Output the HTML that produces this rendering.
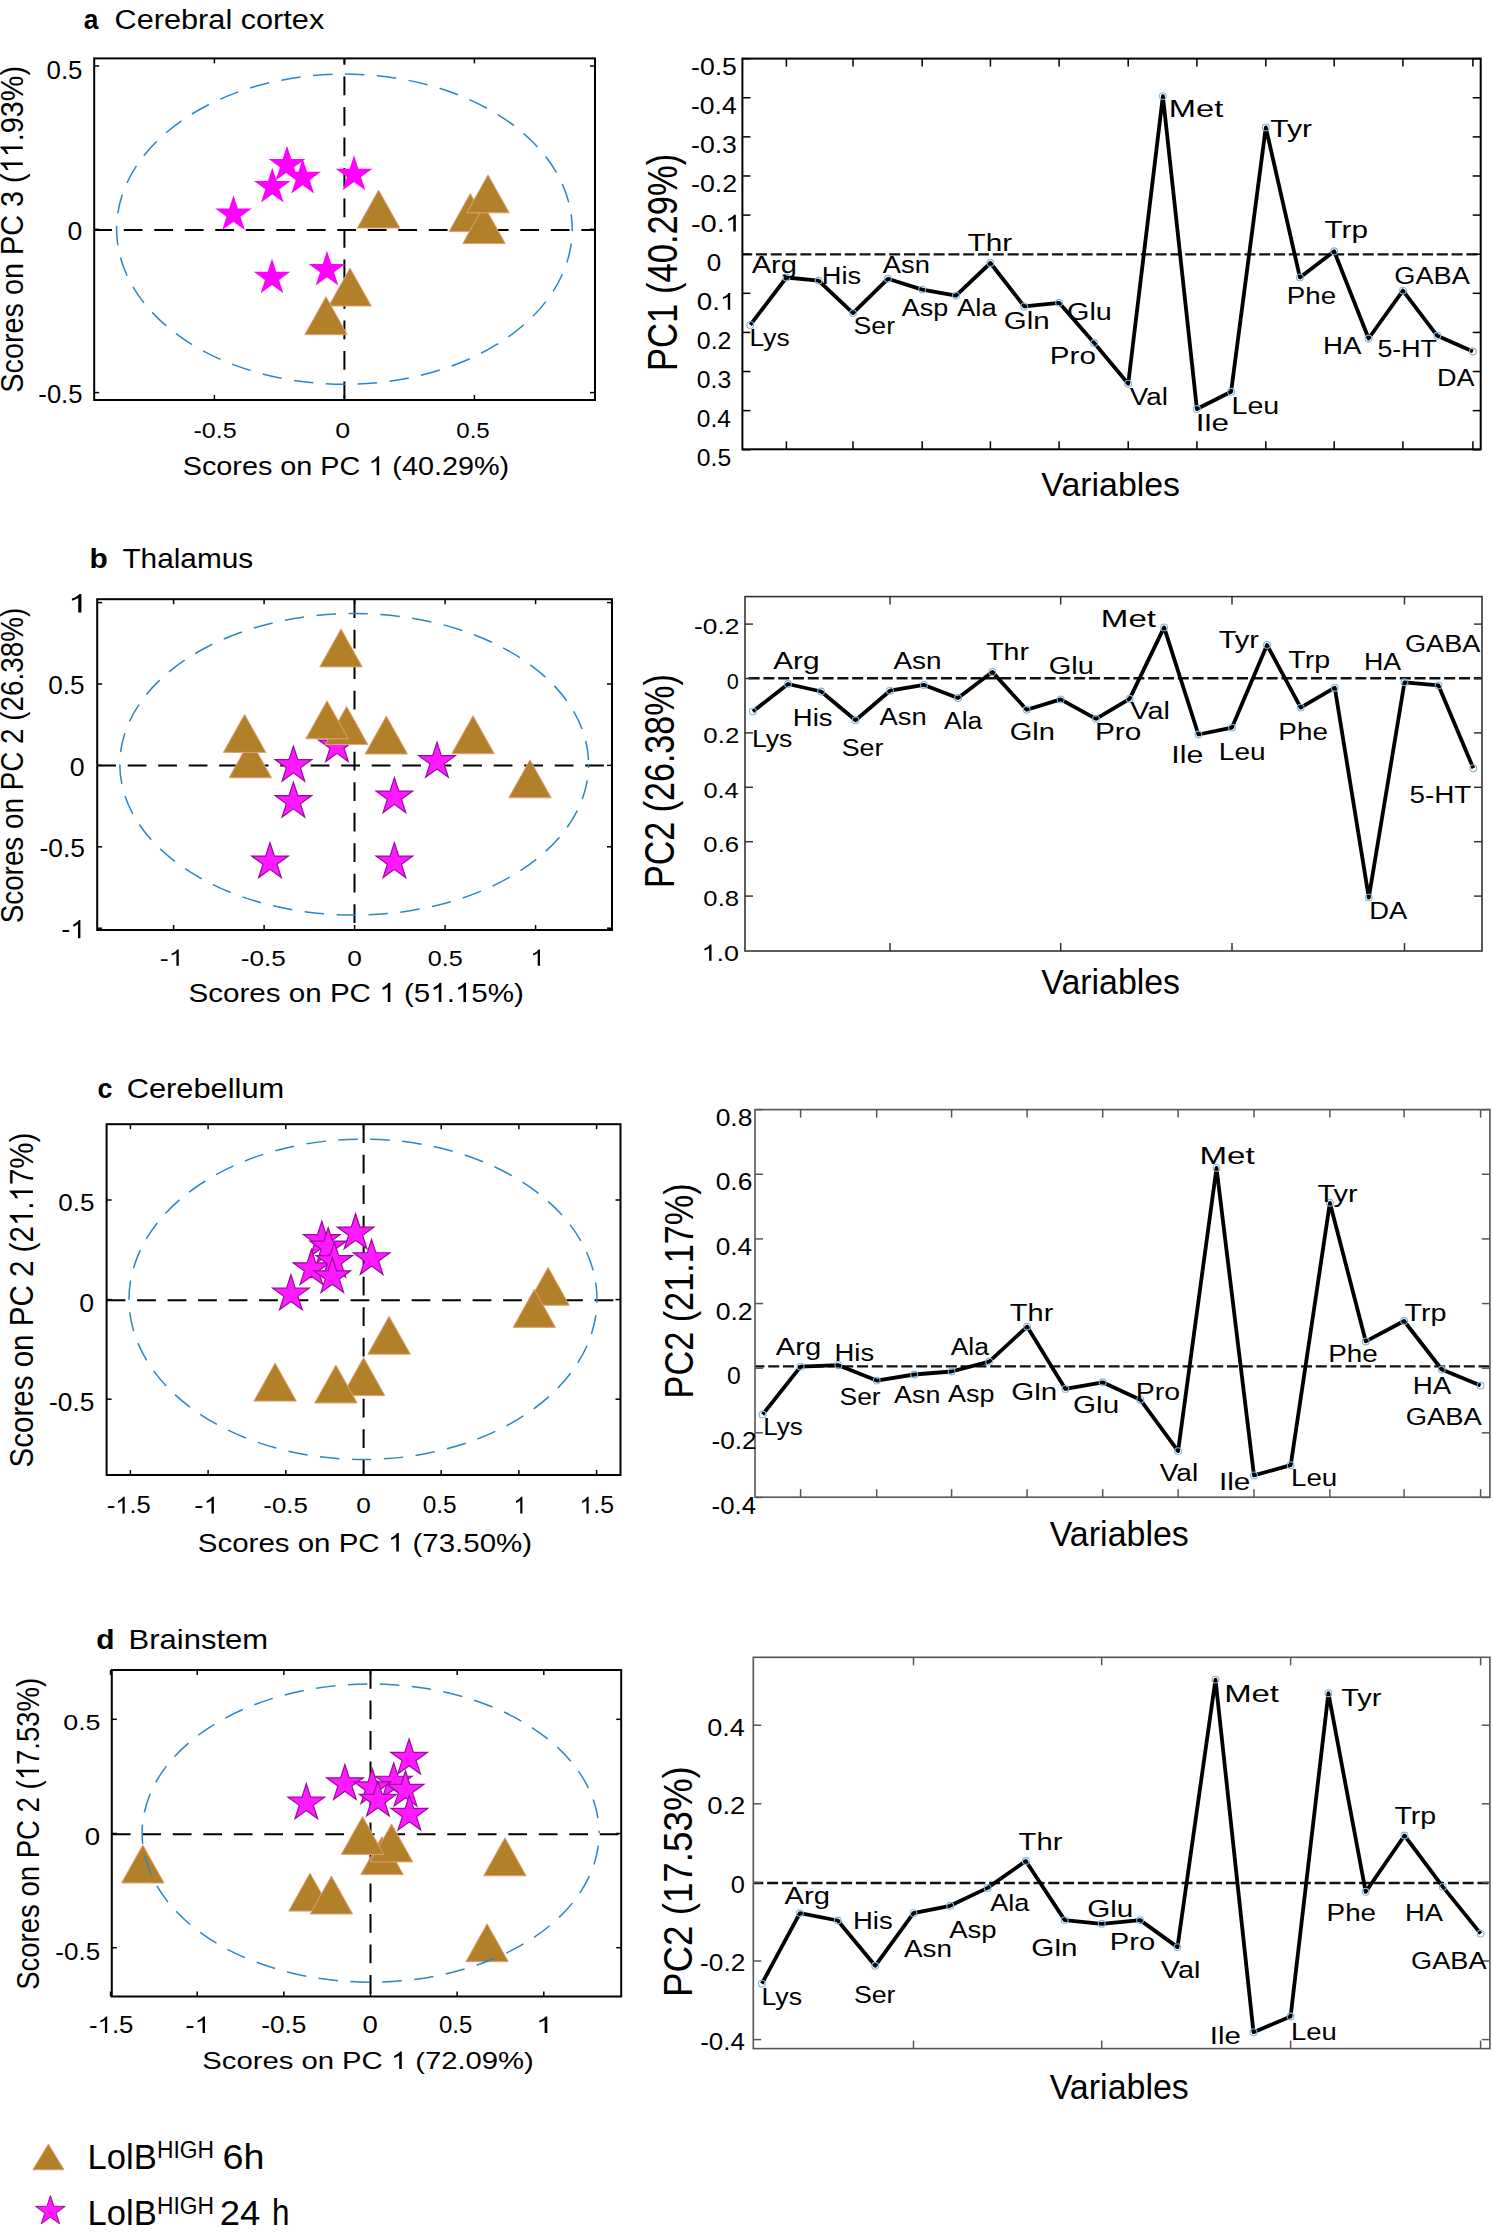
<!DOCTYPE html>
<html><head><meta charset="utf-8"><style>html,body{margin:0;padding:0;background:#fff;}svg{display:block;}</style></head>
<body><svg width="1493" height="2239" viewBox="0 0 1493 2239" font-family="'Liberation Sans', sans-serif">
<rect width="1493" height="2239" fill="#fff"/>
<g transform="matrix(0.9413,0,0,1.0000,83.71,29.30)"><text x="0" y="0" font-size="28.00" font-weight="bold" fill="#000">a</text></g>
<g transform="matrix(1.0959,0,0,1.0000,114.57,29.30)"><text x="0" y="0" font-size="28.00" fill="#000">Cerebral cortex</text></g>
<line x1="94.20" y1="230.00" x2="595.00" y2="230.00" stroke="#000" stroke-width="2" stroke-dasharray="18.75 11.75" stroke-dashoffset="0.9" stroke-linecap="butt"/>
<line x1="344.40" y1="58.40" x2="344.40" y2="400.00" stroke="#000" stroke-width="2" stroke-dasharray="18.75 11.75" stroke-dashoffset="12.4" stroke-linecap="butt"/>
<line x1="214.40" y1="400.00" x2="214.40" y2="395.00" stroke="#000" stroke-width="1.5" stroke-linecap="butt"/>
<line x1="214.40" y1="58.40" x2="214.40" y2="63.40" stroke="#000" stroke-width="1.5" stroke-linecap="butt"/>
<line x1="344.40" y1="400.00" x2="344.40" y2="395.00" stroke="#000" stroke-width="1.5" stroke-linecap="butt"/>
<line x1="344.40" y1="58.40" x2="344.40" y2="63.40" stroke="#000" stroke-width="1.5" stroke-linecap="butt"/>
<line x1="474.40" y1="400.00" x2="474.40" y2="395.00" stroke="#000" stroke-width="1.5" stroke-linecap="butt"/>
<line x1="474.40" y1="58.40" x2="474.40" y2="63.40" stroke="#000" stroke-width="1.5" stroke-linecap="butt"/>
<line x1="94.20" y1="392.60" x2="99.20" y2="392.60" stroke="#000" stroke-width="1.5" stroke-linecap="butt"/>
<line x1="595.00" y1="392.60" x2="590.00" y2="392.60" stroke="#000" stroke-width="1.5" stroke-linecap="butt"/>
<line x1="94.20" y1="229.30" x2="99.20" y2="229.30" stroke="#000" stroke-width="1.5" stroke-linecap="butt"/>
<line x1="595.00" y1="229.30" x2="590.00" y2="229.30" stroke="#000" stroke-width="1.5" stroke-linecap="butt"/>
<line x1="94.20" y1="66.00" x2="99.20" y2="66.00" stroke="#000" stroke-width="1.5" stroke-linecap="butt"/>
<line x1="595.00" y1="66.00" x2="590.00" y2="66.00" stroke="#000" stroke-width="1.5" stroke-linecap="butt"/>
<polygon points="233.50,195.20 237.83,208.54 251.86,208.54 240.51,216.78 244.84,230.11 233.50,221.87 222.16,230.11 226.49,216.78 215.14,208.54 229.17,208.54" fill="#ff00ff"/>
<polygon points="272.30,167.70 276.63,181.04 290.66,181.04 279.31,189.28 283.64,202.61 272.30,194.37 260.96,202.61 265.29,189.28 253.94,181.04 267.97,181.04" fill="#ff00ff"/>
<polygon points="302.70,158.50 307.03,171.84 321.06,171.84 309.71,180.08 314.04,193.41 302.70,185.17 291.36,193.41 295.69,180.08 284.34,171.84 298.37,171.84" fill="#ff00ff"/>
<polygon points="287.00,145.70 291.33,159.04 305.36,159.04 294.01,167.28 298.34,180.61 287.00,172.37 275.66,180.61 279.99,167.28 268.64,159.04 282.67,159.04" fill="#ff00ff"/>
<polygon points="354.00,155.30 358.33,168.64 372.36,168.64 361.01,176.88 365.34,190.21 354.00,181.97 342.66,190.21 346.99,176.88 335.64,168.64 349.67,168.64" fill="#ff00ff"/>
<polygon points="272.00,258.40 276.33,271.74 290.36,271.74 279.01,279.98 283.34,293.31 272.00,285.07 260.66,293.31 264.99,279.98 253.64,271.74 267.67,271.74" fill="#ff00ff"/>
<polygon points="327.00,250.70 331.33,264.04 345.36,264.04 334.01,272.28 338.34,285.61 327.00,277.37 315.66,285.61 319.99,272.28 308.64,264.04 322.67,264.04" fill="#ff00ff"/>
<polygon points="378.60,190.00 357.35,228.00 399.85,228.00" fill="#b3802a" stroke="#e0a27a" stroke-width="1" stroke-linejoin="miter"/>
<polygon points="350.00,268.00 328.75,306.00 371.25,306.00" fill="#b3802a" stroke="#e0a27a" stroke-width="1" stroke-linejoin="miter"/>
<polygon points="326.00,296.70 304.75,334.70 347.25,334.70" fill="#b3802a" stroke="#e0a27a" stroke-width="1" stroke-linejoin="miter"/>
<polygon points="470.30,193.60 449.05,231.60 491.55,231.60" fill="#b3802a" stroke="#e0a27a" stroke-width="1" stroke-linejoin="miter"/>
<polygon points="484.00,205.50 462.75,243.50 505.25,243.50" fill="#b3802a" stroke="#e0a27a" stroke-width="1" stroke-linejoin="miter"/>
<polygon points="488.00,174.80 466.75,212.80 509.25,212.80" fill="#b3802a" stroke="#e0a27a" stroke-width="1" stroke-linejoin="miter"/>
<ellipse cx="344.40" cy="229.20" rx="227.80" ry="155.10" fill="none" stroke="#2a86c8" stroke-width="1.5" stroke-dasharray="19.5 12.5" stroke-dashoffset="17.5"/>
<rect x="94.20" y="58.40" width="500.80" height="341.60" fill="none" stroke="#000" stroke-width="2"/>
<g transform="matrix(1.0998,0,0,1.0000,193.47,437.70)"><text x="0" y="0" font-size="22.80" fill="#000">-0.5</text></g>
<g transform="matrix(1.1787,0,0,1.0000,335.32,437.70)"><text x="0" y="0" font-size="22.80" fill="#000">0</text></g>
<g transform="matrix(1.0580,0,0,1.0000,456.24,437.70)"><text x="0" y="0" font-size="22.80" fill="#000">0.5</text></g>
<g transform="matrix(0.9962,0,0,1.0000,46.57,78.80)"><text x="0" y="0" font-size="25.90" fill="#000">0.5</text></g>
<g transform="matrix(1.0216,0,0,1.0000,67.54,240.30)"><text x="0" y="0" font-size="25.90" fill="#000">0</text></g>
<g transform="matrix(0.9895,0,0,1.0000,38.35,402.80)"><text x="0" y="0" font-size="25.90" fill="#000">-0.5</text></g>
<g transform="matrix(1.0995,0,0,1.0000,182.70,475.20)"><text x="0" y="0" font-size="26.20" fill="#000">Scores on PC   (40.29%)</text><path d="M763 0H583V1147Q518 1085 412.5 1023Q307 961 223 930V1104Q374 1175 487 1276Q600 1377 647 1472H763Z" transform="matrix(0.01279,0,0,-0.01279,168.92,0)" fill="#000"/></g>
<g transform="matrix(0,-1.1002,1.1900,0,22.80,392.70)"><text x="0" y="0" font-size="26.20" fill="#000">Scores on PC 3 (  .93%)</text><path d="M763 0H583V1147Q518 1085 412.5 1023Q307 961 223 930V1104Q374 1175 487 1276Q600 1377 647 1472H763Z" transform="matrix(0.01279,0,0,-0.01279,199.50,0)" fill="#000"/><path d="M763 0H583V1147Q518 1085 412.5 1023Q307 961 223 930V1104Q374 1175 487 1276Q600 1377 647 1472H763Z" transform="matrix(0.01279,0,0,-0.01279,214.07,0)" fill="#000"/></g>
<line x1="742.40" y1="254.40" x2="1480.70" y2="254.40" stroke="#111" stroke-width="2.4" stroke-dasharray="11 3.8" stroke-dashoffset="1.2" stroke-linecap="butt"/>
<line x1="742.40" y1="58.65" x2="750.40" y2="58.65" stroke="#000" stroke-width="1.5" stroke-linecap="butt"/>
<line x1="1480.70" y1="58.65" x2="1472.70" y2="58.65" stroke="#000" stroke-width="1.5" stroke-linecap="butt"/>
<line x1="742.40" y1="97.76" x2="750.40" y2="97.76" stroke="#000" stroke-width="1.5" stroke-linecap="butt"/>
<line x1="1480.70" y1="97.76" x2="1472.70" y2="97.76" stroke="#000" stroke-width="1.5" stroke-linecap="butt"/>
<line x1="742.40" y1="136.87" x2="750.40" y2="136.87" stroke="#000" stroke-width="1.5" stroke-linecap="butt"/>
<line x1="1480.70" y1="136.87" x2="1472.70" y2="136.87" stroke="#000" stroke-width="1.5" stroke-linecap="butt"/>
<line x1="742.40" y1="175.98" x2="750.40" y2="175.98" stroke="#000" stroke-width="1.5" stroke-linecap="butt"/>
<line x1="1480.70" y1="175.98" x2="1472.70" y2="175.98" stroke="#000" stroke-width="1.5" stroke-linecap="butt"/>
<line x1="742.40" y1="215.09" x2="750.40" y2="215.09" stroke="#000" stroke-width="1.5" stroke-linecap="butt"/>
<line x1="1480.70" y1="215.09" x2="1472.70" y2="215.09" stroke="#000" stroke-width="1.5" stroke-linecap="butt"/>
<line x1="742.40" y1="254.20" x2="750.40" y2="254.20" stroke="#000" stroke-width="1.5" stroke-linecap="butt"/>
<line x1="1480.70" y1="254.20" x2="1472.70" y2="254.20" stroke="#000" stroke-width="1.5" stroke-linecap="butt"/>
<line x1="742.40" y1="293.31" x2="750.40" y2="293.31" stroke="#000" stroke-width="1.5" stroke-linecap="butt"/>
<line x1="1480.70" y1="293.31" x2="1472.70" y2="293.31" stroke="#000" stroke-width="1.5" stroke-linecap="butt"/>
<line x1="742.40" y1="332.42" x2="750.40" y2="332.42" stroke="#000" stroke-width="1.5" stroke-linecap="butt"/>
<line x1="1480.70" y1="332.42" x2="1472.70" y2="332.42" stroke="#000" stroke-width="1.5" stroke-linecap="butt"/>
<line x1="742.40" y1="371.53" x2="750.40" y2="371.53" stroke="#000" stroke-width="1.5" stroke-linecap="butt"/>
<line x1="1480.70" y1="371.53" x2="1472.70" y2="371.53" stroke="#000" stroke-width="1.5" stroke-linecap="butt"/>
<line x1="742.40" y1="410.64" x2="750.40" y2="410.64" stroke="#000" stroke-width="1.5" stroke-linecap="butt"/>
<line x1="1480.70" y1="410.64" x2="1472.70" y2="410.64" stroke="#000" stroke-width="1.5" stroke-linecap="butt"/>
<line x1="742.40" y1="449.75" x2="750.40" y2="449.75" stroke="#000" stroke-width="1.5" stroke-linecap="butt"/>
<line x1="1480.70" y1="449.75" x2="1472.70" y2="449.75" stroke="#000" stroke-width="1.5" stroke-linecap="butt"/>
<line x1="786.40" y1="449.30" x2="786.40" y2="441.30" stroke="#000" stroke-width="1.5" stroke-linecap="butt"/>
<line x1="786.40" y1="58.60" x2="786.40" y2="66.60" stroke="#000" stroke-width="1.5" stroke-linecap="butt"/>
<line x1="853.00" y1="449.30" x2="853.00" y2="441.30" stroke="#000" stroke-width="1.5" stroke-linecap="butt"/>
<line x1="853.00" y1="58.60" x2="853.00" y2="66.60" stroke="#000" stroke-width="1.5" stroke-linecap="butt"/>
<line x1="922.20" y1="449.30" x2="922.20" y2="441.30" stroke="#000" stroke-width="1.5" stroke-linecap="butt"/>
<line x1="922.20" y1="58.60" x2="922.20" y2="66.60" stroke="#000" stroke-width="1.5" stroke-linecap="butt"/>
<line x1="990.40" y1="449.30" x2="990.40" y2="441.30" stroke="#000" stroke-width="1.5" stroke-linecap="butt"/>
<line x1="990.40" y1="58.60" x2="990.40" y2="66.60" stroke="#000" stroke-width="1.5" stroke-linecap="butt"/>
<line x1="1059.10" y1="449.30" x2="1059.10" y2="441.30" stroke="#000" stroke-width="1.5" stroke-linecap="butt"/>
<line x1="1059.10" y1="58.60" x2="1059.10" y2="66.60" stroke="#000" stroke-width="1.5" stroke-linecap="butt"/>
<line x1="1128.20" y1="449.30" x2="1128.20" y2="441.30" stroke="#000" stroke-width="1.5" stroke-linecap="butt"/>
<line x1="1128.20" y1="58.60" x2="1128.20" y2="66.60" stroke="#000" stroke-width="1.5" stroke-linecap="butt"/>
<line x1="1196.90" y1="449.30" x2="1196.90" y2="441.30" stroke="#000" stroke-width="1.5" stroke-linecap="butt"/>
<line x1="1196.90" y1="58.60" x2="1196.90" y2="66.60" stroke="#000" stroke-width="1.5" stroke-linecap="butt"/>
<line x1="1265.80" y1="449.30" x2="1265.80" y2="441.30" stroke="#000" stroke-width="1.5" stroke-linecap="butt"/>
<line x1="1265.80" y1="58.60" x2="1265.80" y2="66.60" stroke="#000" stroke-width="1.5" stroke-linecap="butt"/>
<line x1="1334.20" y1="449.30" x2="1334.20" y2="441.30" stroke="#000" stroke-width="1.5" stroke-linecap="butt"/>
<line x1="1334.20" y1="58.60" x2="1334.20" y2="66.60" stroke="#000" stroke-width="1.5" stroke-linecap="butt"/>
<line x1="1402.90" y1="449.30" x2="1402.90" y2="441.30" stroke="#000" stroke-width="1.5" stroke-linecap="butt"/>
<line x1="1402.90" y1="58.60" x2="1402.90" y2="66.60" stroke="#000" stroke-width="1.5" stroke-linecap="butt"/>
<line x1="1472.90" y1="449.30" x2="1472.90" y2="441.30" stroke="#000" stroke-width="1.5" stroke-linecap="butt"/>
<line x1="1472.90" y1="58.60" x2="1472.90" y2="66.60" stroke="#000" stroke-width="1.5" stroke-linecap="butt"/>
<polyline points="750.30,324.90 786.40,277.50 818.60,280.60 853.00,313.10 887.90,278.80 922.20,289.60 956.00,295.60 990.40,263.00 1024.20,306.40 1059.10,302.80 1094.20,343.00 1128.20,383.70 1162.90,96.10 1196.90,409.00 1231.10,391.80 1265.80,127.40 1299.90,277.40 1334.20,251.30 1368.60,338.50 1402.90,290.60 1437.30,335.80 1472.90,351.50" fill="none" stroke="#000" stroke-width="3.8" stroke-linejoin="round"/>
<circle cx="750.30" cy="324.90" r="3.4" fill="none" stroke="#7fb3dc" stroke-width="1.1"/>
<circle cx="786.40" cy="277.50" r="3.4" fill="none" stroke="#7fb3dc" stroke-width="1.1"/>
<circle cx="818.60" cy="280.60" r="3.4" fill="none" stroke="#7fb3dc" stroke-width="1.1"/>
<circle cx="853.00" cy="313.10" r="3.4" fill="none" stroke="#7fb3dc" stroke-width="1.1"/>
<circle cx="887.90" cy="278.80" r="3.4" fill="none" stroke="#7fb3dc" stroke-width="1.1"/>
<circle cx="922.20" cy="289.60" r="3.4" fill="none" stroke="#7fb3dc" stroke-width="1.1"/>
<circle cx="956.00" cy="295.60" r="3.4" fill="none" stroke="#7fb3dc" stroke-width="1.1"/>
<circle cx="990.40" cy="263.00" r="3.4" fill="none" stroke="#7fb3dc" stroke-width="1.1"/>
<circle cx="1024.20" cy="306.40" r="3.4" fill="none" stroke="#7fb3dc" stroke-width="1.1"/>
<circle cx="1059.10" cy="302.80" r="3.4" fill="none" stroke="#7fb3dc" stroke-width="1.1"/>
<circle cx="1094.20" cy="343.00" r="3.4" fill="none" stroke="#7fb3dc" stroke-width="1.1"/>
<circle cx="1128.20" cy="383.70" r="3.4" fill="none" stroke="#7fb3dc" stroke-width="1.1"/>
<circle cx="1162.90" cy="96.10" r="3.4" fill="none" stroke="#7fb3dc" stroke-width="1.1"/>
<circle cx="1196.90" cy="409.00" r="3.4" fill="none" stroke="#7fb3dc" stroke-width="1.1"/>
<circle cx="1231.10" cy="391.80" r="3.4" fill="none" stroke="#7fb3dc" stroke-width="1.1"/>
<circle cx="1265.80" cy="127.40" r="3.4" fill="none" stroke="#7fb3dc" stroke-width="1.1"/>
<circle cx="1299.90" cy="277.40" r="3.4" fill="none" stroke="#7fb3dc" stroke-width="1.1"/>
<circle cx="1334.20" cy="251.30" r="3.4" fill="none" stroke="#7fb3dc" stroke-width="1.1"/>
<circle cx="1368.60" cy="338.50" r="3.4" fill="none" stroke="#7fb3dc" stroke-width="1.1"/>
<circle cx="1402.90" cy="290.60" r="3.4" fill="none" stroke="#7fb3dc" stroke-width="1.1"/>
<circle cx="1437.30" cy="335.80" r="3.4" fill="none" stroke="#7fb3dc" stroke-width="1.1"/>
<circle cx="1472.90" cy="351.50" r="3.4" fill="none" stroke="#7fb3dc" stroke-width="1.1"/>
<rect x="742.40" y="58.60" width="738.30" height="390.70" fill="none" stroke="#000" stroke-width="2"/>
<g transform="matrix(1.0778,0,0,1.0000,749.59,345.70)"><text x="0" y="0" font-size="24.50" fill="#000">Lys</text></g>
<g transform="matrix(1.1889,0,0,1.0000,751.70,273.30)"><text x="0" y="0" font-size="24.50" fill="#000">Arg</text></g>
<g transform="matrix(1.1109,0,0,1.0000,821.82,284.20)"><text x="0" y="0" font-size="24.50" fill="#000">His</text></g>
<g transform="matrix(1.0866,0,0,1.0000,853.60,333.90)"><text x="0" y="0" font-size="24.50" fill="#000">Ser</text></g>
<g transform="matrix(1.1147,0,0,1.0000,882.80,273.30)"><text x="0" y="0" font-size="24.50" fill="#000">Asn</text></g>
<g transform="matrix(1.0982,0,0,1.0000,901.80,315.80)"><text x="0" y="0" font-size="24.50" fill="#000">Asp</text></g>
<g transform="matrix(1.1214,0,0,1.0000,957.00,315.80)"><text x="0" y="0" font-size="24.50" fill="#000">Ala</text></g>
<g transform="matrix(1.2133,0,0,1.0000,967.51,250.70)"><text x="0" y="0" font-size="24.50" fill="#000">Thr</text></g>
<g transform="matrix(1.2046,0,0,1.0000,1003.72,329.40)"><text x="0" y="0" font-size="24.50" fill="#000">Gln</text></g>
<g transform="matrix(1.1763,0,0,1.0000,1067.06,319.50)"><text x="0" y="0" font-size="24.50" fill="#000">Glu</text></g>
<g transform="matrix(1.2088,0,0,1.0000,1049.83,363.80)"><text x="0" y="0" font-size="24.50" fill="#000">Pro</text></g>
<g transform="matrix(1.1334,0,0,1.0000,1129.86,405.40)"><text x="0" y="0" font-size="24.50" fill="#000">Val</text></g>
<g transform="matrix(1.3330,0,0,1.0000,1168.79,116.90)"><text x="0" y="0" font-size="24.50" fill="#000">Met</text></g>
<g transform="matrix(1.2822,0,0,1.0000,1195.87,430.70)"><text x="0" y="0" font-size="24.50" fill="#000">Ile</text></g>
<g transform="matrix(1.1654,0,0,1.0000,1231.52,414.40)"><text x="0" y="0" font-size="24.50" fill="#000">Leu</text></g>
<g transform="matrix(1.2305,0,0,1.0000,1270.30,136.80)"><text x="0" y="0" font-size="24.50" fill="#000">Tyr</text></g>
<g transform="matrix(1.1345,0,0,1.0000,1286.78,304.10)"><text x="0" y="0" font-size="24.50" fill="#000">Phe</text></g>
<g transform="matrix(1.2128,0,0,1.0000,1324.51,238.00)"><text x="0" y="0" font-size="24.50" fill="#000">Trp</text></g>
<g transform="matrix(1.1291,0,0,1.0000,1322.99,353.90)"><text x="0" y="0" font-size="24.50" fill="#000">HA</text></g>
<g transform="matrix(1.1099,0,0,1.0000,1394.34,284.20)"><text x="0" y="0" font-size="24.50" fill="#000">GABA</text></g>
<g transform="matrix(1.0941,0,0,1.0000,1377.43,356.60)"><text x="0" y="0" font-size="24.50" fill="#000">5-HT</text></g>
<g transform="matrix(1.1041,0,0,1.0000,1436.94,386.40)"><text x="0" y="0" font-size="24.50" fill="#000">DA</text></g>
<g transform="matrix(1.1396,0,0,1.0000,691.00,75.15)"><text x="0" y="0" font-size="23.40" fill="#000">-0.5</text></g>
<g transform="matrix(1.1327,0,0,1.0000,691.01,114.26)"><text x="0" y="0" font-size="23.40" fill="#000">-0.4</text></g>
<g transform="matrix(1.1396,0,0,1.0000,691.00,153.37)"><text x="0" y="0" font-size="23.40" fill="#000">-0.3</text></g>
<g transform="matrix(1.1466,0,0,1.0000,690.99,192.48)"><text x="0" y="0" font-size="23.40" fill="#000">-0.2</text></g>
<g transform="matrix(1.2467,0,0,1.0000,690.89,231.59)"><text x="0" y="0" font-size="23.40" fill="#000">-0. </text><path d="M763 0H583V1147Q518 1085 412.5 1023Q307 961 223 930V1104Q374 1175 487 1276Q600 1377 647 1472H763Z" transform="matrix(0.01143,0,0,-0.01143,27.31,0)" fill="#000"/></g>
<g transform="matrix(1.1129,0,0,1.0000,706.71,270.70)"><text x="0" y="0" font-size="23.40" fill="#000">0</text></g>
<g transform="matrix(1.1869,0,0,1.0000,696.69,309.81)"><text x="0" y="0" font-size="23.40" fill="#000">0. </text><path d="M763 0H583V1147Q518 1085 412.5 1023Q307 961 223 930V1104Q374 1175 487 1276Q600 1377 647 1472H763Z" transform="matrix(0.01143,0,0,-0.01143,19.52,0)" fill="#000"/></g>
<g transform="matrix(1.0651,0,0,1.0000,696.80,348.92)"><text x="0" y="0" font-size="23.40" fill="#000">0.2</text></g>
<g transform="matrix(1.0570,0,0,1.0000,696.81,388.03)"><text x="0" y="0" font-size="23.40" fill="#000">0.3</text></g>
<g transform="matrix(1.0490,0,0,1.0000,696.82,427.14)"><text x="0" y="0" font-size="23.40" fill="#000">0.4</text></g>
<g transform="matrix(1.0570,0,0,1.0000,696.81,466.25)"><text x="0" y="0" font-size="23.40" fill="#000">0.5</text></g>
<g transform="matrix(1.0115,0,0,1.0000,1041.33,495.80)"><text x="0" y="0" font-size="33.50" fill="#000">Variables</text></g>
<g transform="matrix(0,-1.0326,1.2460,0,676.80,370.97)"><text x="0" y="0" font-size="33.50" fill="#000">PC1 (40.29%)</text></g>
<g transform="matrix(1.0679,0,0,1.0000,89.46,568.20)"><text x="0" y="0" font-size="28.00" font-weight="bold" fill="#000">b</text></g>
<g transform="matrix(1.0644,0,0,1.0000,122.40,568.20)"><text x="0" y="0" font-size="28.00" fill="#000">Thalamus</text></g>
<line x1="97.20" y1="765.40" x2="612.00" y2="765.40" stroke="#000" stroke-width="2" stroke-dasharray="18.75 11.75" stroke-dashoffset="0" stroke-linecap="butt"/>
<line x1="354.50" y1="599.20" x2="354.50" y2="930.00" stroke="#000" stroke-width="2" stroke-dasharray="18.75 11.75" stroke-dashoffset="0" stroke-linecap="butt"/>
<line x1="173.60" y1="930.00" x2="173.60" y2="925.00" stroke="#000" stroke-width="1.5" stroke-linecap="butt"/>
<line x1="173.60" y1="599.20" x2="173.60" y2="604.20" stroke="#000" stroke-width="1.5" stroke-linecap="butt"/>
<line x1="264.10" y1="930.00" x2="264.10" y2="925.00" stroke="#000" stroke-width="1.5" stroke-linecap="butt"/>
<line x1="264.10" y1="599.20" x2="264.10" y2="604.20" stroke="#000" stroke-width="1.5" stroke-linecap="butt"/>
<line x1="354.60" y1="930.00" x2="354.60" y2="925.00" stroke="#000" stroke-width="1.5" stroke-linecap="butt"/>
<line x1="354.60" y1="599.20" x2="354.60" y2="604.20" stroke="#000" stroke-width="1.5" stroke-linecap="butt"/>
<line x1="445.10" y1="930.00" x2="445.10" y2="925.00" stroke="#000" stroke-width="1.5" stroke-linecap="butt"/>
<line x1="445.10" y1="599.20" x2="445.10" y2="604.20" stroke="#000" stroke-width="1.5" stroke-linecap="butt"/>
<line x1="535.60" y1="930.00" x2="535.60" y2="925.00" stroke="#000" stroke-width="1.5" stroke-linecap="butt"/>
<line x1="535.60" y1="599.20" x2="535.60" y2="604.20" stroke="#000" stroke-width="1.5" stroke-linecap="butt"/>
<line x1="97.20" y1="928.20" x2="102.20" y2="928.20" stroke="#000" stroke-width="1.5" stroke-linecap="butt"/>
<line x1="612.00" y1="928.20" x2="607.00" y2="928.20" stroke="#000" stroke-width="1.5" stroke-linecap="butt"/>
<line x1="97.20" y1="846.80" x2="102.20" y2="846.80" stroke="#000" stroke-width="1.5" stroke-linecap="butt"/>
<line x1="612.00" y1="846.80" x2="607.00" y2="846.80" stroke="#000" stroke-width="1.5" stroke-linecap="butt"/>
<line x1="97.20" y1="765.40" x2="102.20" y2="765.40" stroke="#000" stroke-width="1.5" stroke-linecap="butt"/>
<line x1="612.00" y1="765.40" x2="607.00" y2="765.40" stroke="#000" stroke-width="1.5" stroke-linecap="butt"/>
<line x1="97.20" y1="684.00" x2="102.20" y2="684.00" stroke="#000" stroke-width="1.5" stroke-linecap="butt"/>
<line x1="612.00" y1="684.00" x2="607.00" y2="684.00" stroke="#000" stroke-width="1.5" stroke-linecap="butt"/>
<line x1="97.20" y1="602.60" x2="102.20" y2="602.60" stroke="#000" stroke-width="1.5" stroke-linecap="butt"/>
<line x1="612.00" y1="602.60" x2="607.00" y2="602.60" stroke="#000" stroke-width="1.5" stroke-linecap="butt"/>
<polygon points="293.40,746.20 297.73,759.54 311.76,759.54 300.41,767.78 304.74,781.11 293.40,772.87 282.06,781.11 286.39,767.78 275.04,759.54 289.07,759.54" fill="#ff1aff" stroke="#9a0aa0" stroke-width="1.2" stroke-linejoin="miter"/>
<polygon points="293.40,782.20 297.73,795.54 311.76,795.54 300.41,803.78 304.74,817.11 293.40,808.87 282.06,817.11 286.39,803.78 275.04,795.54 289.07,795.54" fill="#ff1aff" stroke="#9a0aa0" stroke-width="1.2" stroke-linejoin="miter"/>
<polygon points="270.00,842.70 274.33,856.04 288.36,856.04 277.01,864.28 281.34,877.61 270.00,869.37 258.66,877.61 262.99,864.28 251.64,856.04 265.67,856.04" fill="#ff1aff" stroke="#9a0aa0" stroke-width="1.2" stroke-linejoin="miter"/>
<polygon points="337.00,726.70 341.33,740.04 355.36,740.04 344.01,748.28 348.34,761.61 337.00,753.37 325.66,761.61 329.99,748.28 318.64,740.04 332.67,740.04" fill="#ff1aff" stroke="#9a0aa0" stroke-width="1.2" stroke-linejoin="miter"/>
<polygon points="437.00,742.30 441.33,755.64 455.36,755.64 444.01,763.88 448.34,777.21 437.00,768.97 425.66,777.21 429.99,763.88 418.64,755.64 432.67,755.64" fill="#ff1aff" stroke="#9a0aa0" stroke-width="1.2" stroke-linejoin="miter"/>
<polygon points="394.40,777.70 398.73,791.04 412.76,791.04 401.41,799.28 405.74,812.61 394.40,804.37 383.06,812.61 387.39,799.28 376.04,791.04 390.07,791.04" fill="#ff1aff" stroke="#9a0aa0" stroke-width="1.2" stroke-linejoin="miter"/>
<polygon points="394.40,842.70 398.73,856.04 412.76,856.04 401.41,864.28 405.74,877.61 394.40,869.37 383.06,877.61 387.39,864.28 376.04,856.04 390.07,856.04" fill="#ff1aff" stroke="#9a0aa0" stroke-width="1.2" stroke-linejoin="miter"/>
<polygon points="341.00,628.90 319.75,666.90 362.25,666.90" fill="#b3802a" stroke="#e0a27a" stroke-width="1" stroke-linejoin="miter"/>
<polygon points="250.30,739.80 229.05,777.80 271.55,777.80" fill="#b3802a" stroke="#e0a27a" stroke-width="1" stroke-linejoin="miter"/>
<polygon points="244.60,714.40 223.35,752.40 265.85,752.40" fill="#b3802a" stroke="#e0a27a" stroke-width="1" stroke-linejoin="miter"/>
<polygon points="346.60,706.50 325.35,744.50 367.85,744.50" fill="#b3802a" stroke="#e0a27a" stroke-width="1" stroke-linejoin="miter"/>
<polygon points="327.00,700.80 305.75,738.80 348.25,738.80" fill="#b3802a" stroke="#e0a27a" stroke-width="1" stroke-linejoin="miter"/>
<polygon points="386.30,716.00 365.05,754.00 407.55,754.00" fill="#b3802a" stroke="#e0a27a" stroke-width="1" stroke-linejoin="miter"/>
<polygon points="473.00,715.70 451.75,753.70 494.25,753.70" fill="#b3802a" stroke="#e0a27a" stroke-width="1" stroke-linejoin="miter"/>
<polygon points="530.00,759.80 508.75,797.80 551.25,797.80" fill="#b3802a" stroke="#e0a27a" stroke-width="1" stroke-linejoin="miter"/>
<ellipse cx="354.20" cy="764.30" rx="234.40" ry="150.80" fill="none" stroke="#2a86c8" stroke-width="1.5" stroke-dasharray="19.5 12.5" stroke-dashoffset="15.8"/>
<rect x="97.20" y="599.20" width="514.80" height="330.80" fill="none" stroke="#000" stroke-width="2"/>
<g transform="matrix(1.1976,0,0,1.0000,159.79,965.70)"><text x="0" y="0" font-size="22.50" fill="#000">- </text><path d="M763 0H583V1147Q518 1085 412.5 1023Q307 961 223 930V1104Q374 1175 487 1276Q600 1377 647 1472H763Z" transform="matrix(0.01099,0,0,-0.01099,7.49,0)" fill="#000"/></g>
<g transform="matrix(1.1580,0,0,1.0000,240.83,965.70)"><text x="0" y="0" font-size="22.50" fill="#000">-0.5</text></g>
<g transform="matrix(1.1667,0,0,1.0000,347.25,965.70)"><text x="0" y="0" font-size="22.50" fill="#000">0</text></g>
<g transform="matrix(1.1162,0,0,1.0000,427.80,965.70)"><text x="0" y="0" font-size="22.50" fill="#000">0.5</text></g>
<g transform="matrix(1.1631,0,0,1.0000,530.25,965.70)"><text x="0" y="0" font-size="22.50" fill="#000"> </text><path d="M763 0H583V1147Q518 1085 412.5 1023Q307 961 223 930V1104Q374 1175 487 1276Q600 1377 647 1472H763Z" transform="matrix(0.01099,0,0,-0.01099,0.00,0)" fill="#000"/></g>
<g transform="matrix(1.4074,0,0,1.0000,67.98,612.40)"><text x="0" y="0" font-size="25.60" fill="#000"> </text><path d="M763 0H583V1147Q518 1085 412.5 1023Q307 961 223 930V1104Q374 1175 487 1276Q600 1377 647 1472H763Z" transform="matrix(0.01250,0,0,-0.01250,0.00,0)" fill="#000"/></g>
<g transform="matrix(1.0198,0,0,1.0000,48.16,693.80)"><text x="0" y="0" font-size="25.60" fill="#000">0.5</text></g>
<g transform="matrix(1.0417,0,0,1.0000,69.83,775.90)"><text x="0" y="0" font-size="25.60" fill="#000">0</text></g>
<g transform="matrix(1.0273,0,0,1.0000,39.52,857.40)"><text x="0" y="0" font-size="25.60" fill="#000">-0.5</text></g>
<g transform="matrix(1.0585,0,0,1.0000,61.28,938.30)"><text x="0" y="0" font-size="25.60" fill="#000">- </text><path d="M763 0H583V1147Q518 1085 412.5 1023Q307 961 223 930V1104Q374 1175 487 1276Q600 1377 647 1472H763Z" transform="matrix(0.01250,0,0,-0.01250,8.53,0)" fill="#000"/></g>
<g transform="matrix(1.1086,0,0,1.0000,188.47,1002.00)"><text x="0" y="0" font-size="26.70" fill="#000">Scores on PC   (5 . 5%)</text><path d="M763 0H583V1147Q518 1085 412.5 1023Q307 961 223 930V1104Q374 1175 487 1276Q600 1377 647 1472H763Z" transform="matrix(0.01304,0,0,-0.01304,172.15,0)" fill="#000"/><path d="M763 0H583V1147Q518 1085 412.5 1023Q307 961 223 930V1104Q374 1175 487 1276Q600 1377 647 1472H763Z" transform="matrix(0.01304,0,0,-0.01304,218.16,0)" fill="#000"/><path d="M763 0H583V1147Q518 1085 412.5 1023Q307 961 223 930V1104Q374 1175 487 1276Q600 1377 647 1472H763Z" transform="matrix(0.01304,0,0,-0.01304,240.42,0)" fill="#000"/></g>
<g transform="matrix(0,-1.0429,1.1900,0,23.40,923.35)"><text x="0" y="0" font-size="26.70" fill="#000">Scores on PC 2 (26.38%)</text></g>
<line x1="745.00" y1="678.30" x2="1482.00" y2="678.30" stroke="#111" stroke-width="2.4" stroke-dasharray="11 3.8" stroke-dashoffset="11.2" stroke-linecap="butt"/>
<line x1="745.00" y1="624.10" x2="753.00" y2="624.10" stroke="#333" stroke-width="1.5" stroke-linecap="butt"/>
<line x1="1482.00" y1="624.10" x2="1474.00" y2="624.10" stroke="#333" stroke-width="1.5" stroke-linecap="butt"/>
<line x1="745.00" y1="678.50" x2="753.00" y2="678.50" stroke="#333" stroke-width="1.5" stroke-linecap="butt"/>
<line x1="1482.00" y1="678.50" x2="1474.00" y2="678.50" stroke="#333" stroke-width="1.5" stroke-linecap="butt"/>
<line x1="745.00" y1="732.90" x2="753.00" y2="732.90" stroke="#333" stroke-width="1.5" stroke-linecap="butt"/>
<line x1="1482.00" y1="732.90" x2="1474.00" y2="732.90" stroke="#333" stroke-width="1.5" stroke-linecap="butt"/>
<line x1="745.00" y1="787.30" x2="753.00" y2="787.30" stroke="#333" stroke-width="1.5" stroke-linecap="butt"/>
<line x1="1482.00" y1="787.30" x2="1474.00" y2="787.30" stroke="#333" stroke-width="1.5" stroke-linecap="butt"/>
<line x1="745.00" y1="841.70" x2="753.00" y2="841.70" stroke="#333" stroke-width="1.5" stroke-linecap="butt"/>
<line x1="1482.00" y1="841.70" x2="1474.00" y2="841.70" stroke="#333" stroke-width="1.5" stroke-linecap="butt"/>
<line x1="745.00" y1="896.10" x2="753.00" y2="896.10" stroke="#333" stroke-width="1.5" stroke-linecap="butt"/>
<line x1="1482.00" y1="896.10" x2="1474.00" y2="896.10" stroke="#333" stroke-width="1.5" stroke-linecap="butt"/>
<line x1="890.00" y1="951.00" x2="890.00" y2="943.00" stroke="#333" stroke-width="1.5" stroke-linecap="butt"/>
<line x1="890.00" y1="596.60" x2="890.00" y2="604.60" stroke="#333" stroke-width="1.5" stroke-linecap="butt"/>
<line x1="1060.70" y1="951.00" x2="1060.70" y2="943.00" stroke="#333" stroke-width="1.5" stroke-linecap="butt"/>
<line x1="1060.70" y1="596.60" x2="1060.70" y2="604.60" stroke="#333" stroke-width="1.5" stroke-linecap="butt"/>
<line x1="1232.00" y1="951.00" x2="1232.00" y2="943.00" stroke="#333" stroke-width="1.5" stroke-linecap="butt"/>
<line x1="1232.00" y1="596.60" x2="1232.00" y2="604.60" stroke="#333" stroke-width="1.5" stroke-linecap="butt"/>
<line x1="1404.50" y1="951.00" x2="1404.50" y2="943.00" stroke="#333" stroke-width="1.5" stroke-linecap="butt"/>
<line x1="1404.50" y1="596.60" x2="1404.50" y2="604.60" stroke="#333" stroke-width="1.5" stroke-linecap="butt"/>
<polyline points="752.90,711.40 788.00,684.00 821.10,691.50 855.60,720.30 890.00,690.70 924.00,684.90 958.00,698.00 992.30,671.90 1026.70,709.80 1060.70,699.40 1096.00,718.90 1129.60,698.80 1164.10,627.40 1198.40,734.50 1232.00,727.60 1267.00,644.90 1300.70,707.60 1334.80,687.70 1368.80,897.60 1404.50,682.30 1438.50,685.40 1473.30,768.20" fill="none" stroke="#000" stroke-width="3.8" stroke-linejoin="round"/>
<circle cx="752.90" cy="711.40" r="3.4" fill="none" stroke="#7fb3dc" stroke-width="1.1"/>
<circle cx="788.00" cy="684.00" r="3.4" fill="none" stroke="#7fb3dc" stroke-width="1.1"/>
<circle cx="821.10" cy="691.50" r="3.4" fill="none" stroke="#7fb3dc" stroke-width="1.1"/>
<circle cx="855.60" cy="720.30" r="3.4" fill="none" stroke="#7fb3dc" stroke-width="1.1"/>
<circle cx="890.00" cy="690.70" r="3.4" fill="none" stroke="#7fb3dc" stroke-width="1.1"/>
<circle cx="924.00" cy="684.90" r="3.4" fill="none" stroke="#7fb3dc" stroke-width="1.1"/>
<circle cx="958.00" cy="698.00" r="3.4" fill="none" stroke="#7fb3dc" stroke-width="1.1"/>
<circle cx="992.30" cy="671.90" r="3.4" fill="none" stroke="#7fb3dc" stroke-width="1.1"/>
<circle cx="1026.70" cy="709.80" r="3.4" fill="none" stroke="#7fb3dc" stroke-width="1.1"/>
<circle cx="1060.70" cy="699.40" r="3.4" fill="none" stroke="#7fb3dc" stroke-width="1.1"/>
<circle cx="1096.00" cy="718.90" r="3.4" fill="none" stroke="#7fb3dc" stroke-width="1.1"/>
<circle cx="1129.60" cy="698.80" r="3.4" fill="none" stroke="#7fb3dc" stroke-width="1.1"/>
<circle cx="1164.10" cy="627.40" r="3.4" fill="none" stroke="#7fb3dc" stroke-width="1.1"/>
<circle cx="1198.40" cy="734.50" r="3.4" fill="none" stroke="#7fb3dc" stroke-width="1.1"/>
<circle cx="1232.00" cy="727.60" r="3.4" fill="none" stroke="#7fb3dc" stroke-width="1.1"/>
<circle cx="1267.00" cy="644.90" r="3.4" fill="none" stroke="#7fb3dc" stroke-width="1.1"/>
<circle cx="1300.70" cy="707.60" r="3.4" fill="none" stroke="#7fb3dc" stroke-width="1.1"/>
<circle cx="1334.80" cy="687.70" r="3.4" fill="none" stroke="#7fb3dc" stroke-width="1.1"/>
<circle cx="1368.80" cy="897.60" r="3.4" fill="none" stroke="#7fb3dc" stroke-width="1.1"/>
<circle cx="1404.50" cy="682.30" r="3.4" fill="none" stroke="#7fb3dc" stroke-width="1.1"/>
<circle cx="1438.50" cy="685.40" r="3.4" fill="none" stroke="#7fb3dc" stroke-width="1.1"/>
<circle cx="1473.30" cy="768.20" r="3.4" fill="none" stroke="#7fb3dc" stroke-width="1.1"/>
<rect x="745.00" y="596.60" width="737.00" height="354.40" fill="none" stroke="#333" stroke-width="1.6"/>
<g transform="matrix(1.0865,0,0,1.0000,751.97,746.70)"><text x="0" y="0" font-size="24.50" fill="#000">Lys</text></g>
<g transform="matrix(1.2163,0,0,1.0000,773.20,669.20)"><text x="0" y="0" font-size="24.50" fill="#000">Arg</text></g>
<g transform="matrix(1.1232,0,0,1.0000,792.80,725.80)"><text x="0" y="0" font-size="24.50" fill="#000">His</text></g>
<g transform="matrix(1.0948,0,0,1.0000,841.69,756.30)"><text x="0" y="0" font-size="24.50" fill="#000">Ser</text></g>
<g transform="matrix(1.1394,0,0,1.0000,893.50,669.20)"><text x="0" y="0" font-size="24.50" fill="#000">Asn</text></g>
<g transform="matrix(1.1172,0,0,1.0000,879.60,725.00)"><text x="0" y="0" font-size="24.50" fill="#000">Asn</text></g>
<g transform="matrix(1.0818,0,0,1.0000,944.00,729.30)"><text x="0" y="0" font-size="24.50" fill="#000">Ala</text></g>
<g transform="matrix(1.1686,0,0,1.0000,986.13,659.70)"><text x="0" y="0" font-size="24.50" fill="#000">Thr</text></g>
<g transform="matrix(1.1848,0,0,1.0000,1009.65,739.80)"><text x="0" y="0" font-size="24.50" fill="#000">Gln</text></g>
<g transform="matrix(1.1848,0,0,1.0000,1048.75,673.60)"><text x="0" y="0" font-size="24.50" fill="#000">Glu</text></g>
<g transform="matrix(1.2145,0,0,1.0000,1095.02,739.80)"><text x="0" y="0" font-size="24.50" fill="#000">Pro</text></g>
<g transform="matrix(1.1774,0,0,1.0000,1130.36,718.90)"><text x="0" y="0" font-size="24.50" fill="#000">Val</text></g>
<g transform="matrix(1.3511,0,0,1.0000,1100.85,627.40)"><text x="0" y="0" font-size="24.50" fill="#000">Met</text></g>
<g transform="matrix(1.2378,0,0,1.0000,1171.27,763.30)"><text x="0" y="0" font-size="24.50" fill="#000">Ile</text></g>
<g transform="matrix(1.1439,0,0,1.0000,1218.86,759.80)"><text x="0" y="0" font-size="24.50" fill="#000">Leu</text></g>
<g transform="matrix(1.1852,0,0,1.0000,1218.72,648.30)"><text x="0" y="0" font-size="24.50" fill="#000">Tyr</text></g>
<g transform="matrix(1.1369,0,0,1.0000,1278.37,739.80)"><text x="0" y="0" font-size="24.50" fill="#000">Phe</text></g>
<g transform="matrix(1.1691,0,0,1.0000,1288.23,667.50)"><text x="0" y="0" font-size="24.50" fill="#000">Trp</text></g>
<g transform="matrix(1.0916,0,0,1.0000,1364.06,670.10)"><text x="0" y="0" font-size="24.50" fill="#000">HA</text></g>
<g transform="matrix(1.1084,0,0,1.0000,1404.94,651.80)"><text x="0" y="0" font-size="24.50" fill="#000">GABA</text></g>
<g transform="matrix(1.1357,0,0,1.0000,1409.49,802.70)"><text x="0" y="0" font-size="24.50" fill="#000">5-HT</text></g>
<g transform="matrix(1.1166,0,0,1.0000,1369.31,918.50)"><text x="0" y="0" font-size="24.50" fill="#000">DA</text></g>
<g transform="matrix(1.1627,0,0,1.0000,694.12,634.40)"><text x="0" y="0" font-size="22.60" fill="#000">-0.2</text></g>
<g transform="matrix(0.9587,0,0,1.0000,726.73,688.80)"><text x="0" y="0" font-size="22.60" fill="#000">0</text></g>
<g transform="matrix(1.1436,0,0,1.0000,703.37,743.20)"><text x="0" y="0" font-size="22.60" fill="#000">0.2</text></g>
<g transform="matrix(1.1263,0,0,1.0000,703.38,797.60)"><text x="0" y="0" font-size="22.60" fill="#000">0.4</text></g>
<g transform="matrix(1.1349,0,0,1.0000,703.37,852.00)"><text x="0" y="0" font-size="22.60" fill="#000">0.6</text></g>
<g transform="matrix(1.1349,0,0,1.0000,703.37,906.40)"><text x="0" y="0" font-size="22.60" fill="#000">0.8</text></g>
<g transform="matrix(1.1931,0,0,1.0000,701.46,960.80)"><text x="0" y="0" font-size="22.60" fill="#000"> .0</text><path d="M763 0H583V1147Q518 1085 412.5 1023Q307 961 223 930V1104Q374 1175 487 1276Q600 1377 647 1472H763Z" transform="matrix(0.01104,0,0,-0.01104,0.00,0)" fill="#000"/></g>
<g transform="matrix(0.9821,0,0,1.0000,1041.33,994.40)"><text x="0" y="0" font-size="34.50" fill="#000">Variables</text></g>
<g transform="matrix(0,-1.0166,1.2600,0,673.60,888.02)"><text x="0" y="0" font-size="33.50" fill="#000">PC2 (26.38%)</text></g>
<g transform="matrix(0.9573,0,0,1.0000,97.43,1098.20)"><text x="0" y="0" font-size="28.00" font-weight="bold" fill="#000">c</text></g>
<g transform="matrix(1.1007,0,0,1.0000,126.66,1098.20)"><text x="0" y="0" font-size="28.00" fill="#000">Cerebellum</text></g>
<line x1="106.60" y1="1300.30" x2="620.50" y2="1300.30" stroke="#000" stroke-width="2" stroke-dasharray="18.75 11.75" stroke-dashoffset="0" stroke-linecap="butt"/>
<line x1="363.60" y1="1124.20" x2="363.60" y2="1475.00" stroke="#000" stroke-width="2" stroke-dasharray="18.75 11.75" stroke-dashoffset="0" stroke-linecap="butt"/>
<line x1="130.40" y1="1475.00" x2="130.40" y2="1470.00" stroke="#000" stroke-width="1.5" stroke-linecap="butt"/>
<line x1="130.40" y1="1124.20" x2="130.40" y2="1129.20" stroke="#000" stroke-width="1.5" stroke-linecap="butt"/>
<line x1="208.10" y1="1475.00" x2="208.10" y2="1470.00" stroke="#000" stroke-width="1.5" stroke-linecap="butt"/>
<line x1="208.10" y1="1124.20" x2="208.10" y2="1129.20" stroke="#000" stroke-width="1.5" stroke-linecap="butt"/>
<line x1="285.80" y1="1475.00" x2="285.80" y2="1470.00" stroke="#000" stroke-width="1.5" stroke-linecap="butt"/>
<line x1="285.80" y1="1124.20" x2="285.80" y2="1129.20" stroke="#000" stroke-width="1.5" stroke-linecap="butt"/>
<line x1="363.50" y1="1475.00" x2="363.50" y2="1470.00" stroke="#000" stroke-width="1.5" stroke-linecap="butt"/>
<line x1="363.50" y1="1124.20" x2="363.50" y2="1129.20" stroke="#000" stroke-width="1.5" stroke-linecap="butt"/>
<line x1="441.20" y1="1475.00" x2="441.20" y2="1470.00" stroke="#000" stroke-width="1.5" stroke-linecap="butt"/>
<line x1="441.20" y1="1124.20" x2="441.20" y2="1129.20" stroke="#000" stroke-width="1.5" stroke-linecap="butt"/>
<line x1="518.90" y1="1475.00" x2="518.90" y2="1470.00" stroke="#000" stroke-width="1.5" stroke-linecap="butt"/>
<line x1="518.90" y1="1124.20" x2="518.90" y2="1129.20" stroke="#000" stroke-width="1.5" stroke-linecap="butt"/>
<line x1="596.60" y1="1475.00" x2="596.60" y2="1470.00" stroke="#000" stroke-width="1.5" stroke-linecap="butt"/>
<line x1="596.60" y1="1124.20" x2="596.60" y2="1129.20" stroke="#000" stroke-width="1.5" stroke-linecap="butt"/>
<line x1="106.60" y1="1399.20" x2="111.60" y2="1399.20" stroke="#000" stroke-width="1.5" stroke-linecap="butt"/>
<line x1="620.50" y1="1399.20" x2="615.50" y2="1399.20" stroke="#000" stroke-width="1.5" stroke-linecap="butt"/>
<line x1="106.60" y1="1299.60" x2="111.60" y2="1299.60" stroke="#000" stroke-width="1.5" stroke-linecap="butt"/>
<line x1="620.50" y1="1299.60" x2="615.50" y2="1299.60" stroke="#000" stroke-width="1.5" stroke-linecap="butt"/>
<line x1="106.60" y1="1200.00" x2="111.60" y2="1200.00" stroke="#000" stroke-width="1.5" stroke-linecap="butt"/>
<line x1="620.50" y1="1200.00" x2="615.50" y2="1200.00" stroke="#000" stroke-width="1.5" stroke-linecap="butt"/>
<polygon points="355.60,1213.70 359.93,1227.04 373.96,1227.04 362.61,1235.28 366.94,1248.61 355.60,1240.37 344.26,1248.61 348.59,1235.28 337.24,1227.04 351.27,1227.04" fill="#ff1aff" stroke="#9a0aa0" stroke-width="1.2" stroke-linejoin="miter"/>
<polygon points="371.60,1239.40 375.93,1252.74 389.96,1252.74 378.61,1260.98 382.94,1274.31 371.60,1266.07 360.26,1274.31 364.59,1260.98 353.24,1252.74 367.27,1252.74" fill="#ff1aff" stroke="#9a0aa0" stroke-width="1.2" stroke-linejoin="miter"/>
<polygon points="321.80,1221.30 326.13,1234.64 340.16,1234.64 328.81,1242.88 333.14,1256.21 321.80,1247.97 310.46,1256.21 314.79,1242.88 303.44,1234.64 317.47,1234.64" fill="#ff1aff" stroke="#9a0aa0" stroke-width="1.2" stroke-linejoin="miter"/>
<polygon points="328.20,1227.70 332.53,1241.04 346.56,1241.04 335.21,1249.28 339.54,1262.61 328.20,1254.37 316.86,1262.61 321.19,1249.28 309.84,1241.04 323.87,1241.04" fill="#ff1aff" stroke="#9a0aa0" stroke-width="1.2" stroke-linejoin="miter"/>
<polygon points="290.90,1274.80 295.23,1288.14 309.26,1288.14 297.91,1296.38 302.24,1309.71 290.90,1301.47 279.56,1309.71 283.89,1296.38 272.54,1288.14 286.57,1288.14" fill="#ff1aff" stroke="#9a0aa0" stroke-width="1.2" stroke-linejoin="miter"/>
<polygon points="311.40,1249.50 315.73,1262.84 329.76,1262.84 318.41,1271.08 322.74,1284.41 311.40,1276.17 300.06,1284.41 304.39,1271.08 293.04,1262.84 307.07,1262.84" fill="#ff1aff" stroke="#9a0aa0" stroke-width="1.2" stroke-linejoin="miter"/>
<polygon points="334.30,1242.20 338.63,1255.54 352.66,1255.54 341.31,1263.78 345.64,1277.11 334.30,1268.87 322.96,1277.11 327.29,1263.78 315.94,1255.54 329.97,1255.54" fill="#ff1aff" stroke="#9a0aa0" stroke-width="1.2" stroke-linejoin="miter"/>
<polygon points="332.30,1257.50 336.63,1270.84 350.66,1270.84 339.31,1279.08 343.64,1292.41 332.30,1284.17 320.96,1292.41 325.29,1279.08 313.94,1270.84 327.97,1270.84" fill="#ff1aff" stroke="#9a0aa0" stroke-width="1.2" stroke-linejoin="miter"/>
<polygon points="275.10,1363.10 253.85,1401.10 296.35,1401.10" fill="#b3802a" stroke="#e0a27a" stroke-width="1" stroke-linejoin="miter"/>
<polygon points="363.60,1357.60 342.35,1395.60 384.85,1395.60" fill="#b3802a" stroke="#e0a27a" stroke-width="1" stroke-linejoin="miter"/>
<polygon points="335.90,1365.00 314.65,1403.00 357.15,1403.00" fill="#b3802a" stroke="#e0a27a" stroke-width="1" stroke-linejoin="miter"/>
<polygon points="389.10,1316.20 367.85,1354.20 410.35,1354.20" fill="#b3802a" stroke="#e0a27a" stroke-width="1" stroke-linejoin="miter"/>
<polygon points="548.10,1267.30 526.85,1305.30 569.35,1305.30" fill="#b3802a" stroke="#e0a27a" stroke-width="1" stroke-linejoin="miter"/>
<polygon points="534.30,1289.40 513.05,1327.40 555.55,1327.40" fill="#b3802a" stroke="#e0a27a" stroke-width="1" stroke-linejoin="miter"/>
<ellipse cx="363.00" cy="1299.30" rx="234.00" ry="160.20" fill="none" stroke="#2a86c8" stroke-width="1.5" stroke-dasharray="19.5 12.5" stroke-dashoffset="16.1"/>
<rect x="106.60" y="1124.20" width="513.90" height="350.80" fill="none" stroke="#000" stroke-width="2"/>
<g transform="matrix(1.1142,0,0,1.0000,106.65,1513.40)"><text x="0" y="0" font-size="23.00" fill="#000">- .5</text><path d="M763 0H583V1147Q518 1085 412.5 1023Q307 961 223 930V1104Q374 1175 487 1276Q600 1377 647 1472H763Z" transform="matrix(0.01123,0,0,-0.01123,7.66,0)" fill="#000"/></g>
<g transform="matrix(1.2044,0,0,1.0000,194.35,1513.40)"><text x="0" y="0" font-size="23.00" fill="#000">- </text><path d="M763 0H583V1147Q518 1085 412.5 1023Q307 961 223 930V1104Q374 1175 487 1276Q600 1377 647 1472H763Z" transform="matrix(0.01123,0,0,-0.01123,7.66,0)" fill="#000"/></g>
<g transform="matrix(1.1222,0,0,1.0000,263.34,1513.40)"><text x="0" y="0" font-size="23.00" fill="#000">-0.5</text></g>
<g transform="matrix(1.1413,0,0,1.0000,356.35,1513.40)"><text x="0" y="0" font-size="23.00" fill="#000">0</text></g>
<g transform="matrix(1.0621,0,0,1.0000,422.72,1513.40)"><text x="0" y="0" font-size="23.00" fill="#000">0.5</text></g>
<g transform="matrix(1.0553,0,0,1.0000,513.36,1513.40)"><text x="0" y="0" font-size="23.00" fill="#000"> </text><path d="M763 0H583V1147Q518 1085 412.5 1023Q307 961 223 930V1104Q374 1175 487 1276Q600 1377 647 1472H763Z" transform="matrix(0.01123,0,0,-0.01123,0.00,0)" fill="#000"/></g>
<g transform="matrix(1.0825,0,0,1.0000,579.39,1513.40)"><text x="0" y="0" font-size="23.00" fill="#000"> .5</text><path d="M763 0H583V1147Q518 1085 412.5 1023Q307 961 223 930V1104Q374 1175 487 1276Q600 1377 647 1472H763Z" transform="matrix(0.01123,0,0,-0.01123,0.00,0)" fill="#000"/></g>
<g transform="matrix(1.1077,0,0,1.0000,58.26,1210.70)"><text x="0" y="0" font-size="23.50" fill="#000">0.5</text></g>
<g transform="matrix(1.0063,0,0,1.0000,79.33,1311.50)"><text x="0" y="0" font-size="26.50" fill="#000">0</text></g>
<g transform="matrix(0.9924,0,0,1.0000,49.02,1411.20)"><text x="0" y="0" font-size="26.50" fill="#000">-0.5</text></g>
<g transform="matrix(1.1517,0,0,1.0000,197.77,1551.50)"><text x="0" y="0" font-size="25.60" fill="#000">Scores on PC   (73.50%)</text><path d="M763 0H583V1147Q518 1085 412.5 1023Q307 961 223 930V1104Q374 1175 487 1276Q600 1377 647 1472H763Z" transform="matrix(0.01250,0,0,-0.01250,165.05,0)" fill="#000"/></g>
<g transform="matrix(0,-1.1149,1.2200,0,32.90,1467.43)"><text x="0" y="0" font-size="26.50" fill="#000">Scores on PC 2 (2 . 7%)</text><path d="M763 0H583V1147Q518 1085 412.5 1023Q307 961 223 930V1104Q374 1175 487 1276Q600 1377 647 1472H763Z" transform="matrix(0.01294,0,0,-0.01294,216.52,0)" fill="#000"/><path d="M763 0H583V1147Q518 1085 412.5 1023Q307 961 223 930V1104Q374 1175 487 1276Q600 1377 647 1472H763Z" transform="matrix(0.01294,0,0,-0.01294,238.62,0)" fill="#000"/></g>
<line x1="755.00" y1="1366.40" x2="1489.90" y2="1366.40" stroke="#111" stroke-width="2.4" stroke-dasharray="11 3.8" stroke-dashoffset="1.6" stroke-linecap="butt"/>
<line x1="755.00" y1="1109.64" x2="763.00" y2="1109.64" stroke="#555" stroke-width="1.5" stroke-linecap="butt"/>
<line x1="1489.90" y1="1109.64" x2="1481.90" y2="1109.64" stroke="#555" stroke-width="1.5" stroke-linecap="butt"/>
<line x1="755.00" y1="1174.28" x2="763.00" y2="1174.28" stroke="#555" stroke-width="1.5" stroke-linecap="butt"/>
<line x1="1489.90" y1="1174.28" x2="1481.90" y2="1174.28" stroke="#555" stroke-width="1.5" stroke-linecap="butt"/>
<line x1="755.00" y1="1238.92" x2="763.00" y2="1238.92" stroke="#555" stroke-width="1.5" stroke-linecap="butt"/>
<line x1="1489.90" y1="1238.92" x2="1481.90" y2="1238.92" stroke="#555" stroke-width="1.5" stroke-linecap="butt"/>
<line x1="755.00" y1="1303.56" x2="763.00" y2="1303.56" stroke="#555" stroke-width="1.5" stroke-linecap="butt"/>
<line x1="1489.90" y1="1303.56" x2="1481.90" y2="1303.56" stroke="#555" stroke-width="1.5" stroke-linecap="butt"/>
<line x1="755.00" y1="1368.20" x2="763.00" y2="1368.20" stroke="#555" stroke-width="1.5" stroke-linecap="butt"/>
<line x1="1489.90" y1="1368.20" x2="1481.90" y2="1368.20" stroke="#555" stroke-width="1.5" stroke-linecap="butt"/>
<line x1="755.00" y1="1432.84" x2="763.00" y2="1432.84" stroke="#555" stroke-width="1.5" stroke-linecap="butt"/>
<line x1="1489.90" y1="1432.84" x2="1481.90" y2="1432.84" stroke="#555" stroke-width="1.5" stroke-linecap="butt"/>
<line x1="755.00" y1="1497.48" x2="763.00" y2="1497.48" stroke="#555" stroke-width="1.5" stroke-linecap="butt"/>
<line x1="1489.90" y1="1497.48" x2="1481.90" y2="1497.48" stroke="#555" stroke-width="1.5" stroke-linecap="butt"/>
<line x1="800.60" y1="1497.20" x2="800.60" y2="1489.20" stroke="#555" stroke-width="1.5" stroke-linecap="butt"/>
<line x1="800.60" y1="1109.60" x2="800.60" y2="1117.60" stroke="#555" stroke-width="1.5" stroke-linecap="butt"/>
<line x1="876.70" y1="1497.20" x2="876.70" y2="1489.20" stroke="#555" stroke-width="1.5" stroke-linecap="butt"/>
<line x1="876.70" y1="1109.60" x2="876.70" y2="1117.60" stroke="#555" stroke-width="1.5" stroke-linecap="butt"/>
<line x1="951.60" y1="1497.20" x2="951.60" y2="1489.20" stroke="#555" stroke-width="1.5" stroke-linecap="butt"/>
<line x1="951.60" y1="1109.60" x2="951.60" y2="1117.60" stroke="#555" stroke-width="1.5" stroke-linecap="butt"/>
<line x1="1027.10" y1="1497.20" x2="1027.10" y2="1489.20" stroke="#555" stroke-width="1.5" stroke-linecap="butt"/>
<line x1="1027.10" y1="1109.60" x2="1027.10" y2="1117.60" stroke="#555" stroke-width="1.5" stroke-linecap="butt"/>
<line x1="1102.70" y1="1497.20" x2="1102.70" y2="1489.20" stroke="#555" stroke-width="1.5" stroke-linecap="butt"/>
<line x1="1102.70" y1="1109.60" x2="1102.70" y2="1117.60" stroke="#555" stroke-width="1.5" stroke-linecap="butt"/>
<line x1="1178.10" y1="1497.20" x2="1178.10" y2="1489.20" stroke="#555" stroke-width="1.5" stroke-linecap="butt"/>
<line x1="1178.10" y1="1109.60" x2="1178.10" y2="1117.60" stroke="#555" stroke-width="1.5" stroke-linecap="butt"/>
<line x1="1254.00" y1="1497.20" x2="1254.00" y2="1489.20" stroke="#555" stroke-width="1.5" stroke-linecap="butt"/>
<line x1="1254.00" y1="1109.60" x2="1254.00" y2="1117.60" stroke="#555" stroke-width="1.5" stroke-linecap="butt"/>
<line x1="1329.90" y1="1497.20" x2="1329.90" y2="1489.20" stroke="#555" stroke-width="1.5" stroke-linecap="butt"/>
<line x1="1329.90" y1="1109.60" x2="1329.90" y2="1117.60" stroke="#555" stroke-width="1.5" stroke-linecap="butt"/>
<line x1="1404.10" y1="1497.20" x2="1404.10" y2="1489.20" stroke="#555" stroke-width="1.5" stroke-linecap="butt"/>
<line x1="1404.10" y1="1109.60" x2="1404.10" y2="1117.60" stroke="#555" stroke-width="1.5" stroke-linecap="butt"/>
<line x1="1480.60" y1="1497.20" x2="1480.60" y2="1489.20" stroke="#555" stroke-width="1.5" stroke-linecap="butt"/>
<line x1="1480.60" y1="1109.60" x2="1480.60" y2="1117.60" stroke="#555" stroke-width="1.5" stroke-linecap="butt"/>
<polyline points="762.60,1414.50 800.60,1366.60 838.40,1365.20 876.70,1380.60 914.20,1374.50 951.60,1371.50 989.20,1361.60 1027.10,1326.60 1065.40,1388.90 1102.70,1382.30 1140.30,1399.70 1178.10,1451.10 1216.50,1167.90 1254.00,1475.40 1290.70,1465.20 1329.90,1202.80 1365.80,1341.40 1404.10,1321.00 1441.80,1369.50 1480.60,1385.60" fill="none" stroke="#000" stroke-width="3.8" stroke-linejoin="round"/>
<circle cx="762.60" cy="1414.50" r="3.4" fill="none" stroke="#7fb3dc" stroke-width="1.1"/>
<circle cx="800.60" cy="1366.60" r="3.4" fill="none" stroke="#7fb3dc" stroke-width="1.1"/>
<circle cx="838.40" cy="1365.20" r="3.4" fill="none" stroke="#7fb3dc" stroke-width="1.1"/>
<circle cx="876.70" cy="1380.60" r="3.4" fill="none" stroke="#7fb3dc" stroke-width="1.1"/>
<circle cx="914.20" cy="1374.50" r="3.4" fill="none" stroke="#7fb3dc" stroke-width="1.1"/>
<circle cx="951.60" cy="1371.50" r="3.4" fill="none" stroke="#7fb3dc" stroke-width="1.1"/>
<circle cx="989.20" cy="1361.60" r="3.4" fill="none" stroke="#7fb3dc" stroke-width="1.1"/>
<circle cx="1027.10" cy="1326.60" r="3.4" fill="none" stroke="#7fb3dc" stroke-width="1.1"/>
<circle cx="1065.40" cy="1388.90" r="3.4" fill="none" stroke="#7fb3dc" stroke-width="1.1"/>
<circle cx="1102.70" cy="1382.30" r="3.4" fill="none" stroke="#7fb3dc" stroke-width="1.1"/>
<circle cx="1140.30" cy="1399.70" r="3.4" fill="none" stroke="#7fb3dc" stroke-width="1.1"/>
<circle cx="1178.10" cy="1451.10" r="3.4" fill="none" stroke="#7fb3dc" stroke-width="1.1"/>
<circle cx="1216.50" cy="1167.90" r="3.4" fill="none" stroke="#7fb3dc" stroke-width="1.1"/>
<circle cx="1254.00" cy="1475.40" r="3.4" fill="none" stroke="#7fb3dc" stroke-width="1.1"/>
<circle cx="1290.70" cy="1465.20" r="3.4" fill="none" stroke="#7fb3dc" stroke-width="1.1"/>
<circle cx="1329.90" cy="1202.80" r="3.4" fill="none" stroke="#7fb3dc" stroke-width="1.1"/>
<circle cx="1365.80" cy="1341.40" r="3.4" fill="none" stroke="#7fb3dc" stroke-width="1.1"/>
<circle cx="1404.10" cy="1321.00" r="3.4" fill="none" stroke="#7fb3dc" stroke-width="1.1"/>
<circle cx="1441.80" cy="1369.50" r="3.4" fill="none" stroke="#7fb3dc" stroke-width="1.1"/>
<circle cx="1480.60" cy="1385.60" r="3.4" fill="none" stroke="#7fb3dc" stroke-width="1.1"/>
<rect x="755.00" y="1109.60" width="734.90" height="387.60" fill="none" stroke="#555" stroke-width="1.6"/>
<g transform="matrix(1.0604,0,0,1.0000,763.22,1434.60)"><text x="0" y="0" font-size="24.50" fill="#000">Lys</text></g>
<g transform="matrix(1.1916,0,0,1.0000,775.70,1355.30)"><text x="0" y="0" font-size="24.50" fill="#000">Arg</text></g>
<g transform="matrix(1.1201,0,0,1.0000,834.50,1361.40)"><text x="0" y="0" font-size="24.50" fill="#000">His</text></g>
<g transform="matrix(1.0784,0,0,1.0000,839.51,1404.90)"><text x="0" y="0" font-size="24.50" fill="#000">Ser</text></g>
<g transform="matrix(1.0950,0,0,1.0000,894.10,1403.20)"><text x="0" y="0" font-size="24.50" fill="#000">Asn</text></g>
<g transform="matrix(1.1006,0,0,1.0000,948.10,1401.50)"><text x="0" y="0" font-size="24.50" fill="#000">Asp</text></g>
<g transform="matrix(1.0818,0,0,1.0000,950.70,1355.30)"><text x="0" y="0" font-size="24.50" fill="#000">Ala</text></g>
<g transform="matrix(1.1826,0,0,1.0000,1009.82,1321.30)"><text x="0" y="0" font-size="24.50" fill="#000">Thr</text></g>
<g transform="matrix(1.2075,0,0,1.0000,1011.22,1399.70)"><text x="0" y="0" font-size="24.50" fill="#000">Gln</text></g>
<g transform="matrix(1.2103,0,0,1.0000,1073.02,1412.80)"><text x="0" y="0" font-size="24.50" fill="#000">Glu</text></g>
<g transform="matrix(1.1633,0,0,1.0000,1135.82,1399.70)"><text x="0" y="0" font-size="24.50" fill="#000">Pro</text></g>
<g transform="matrix(1.1491,0,0,1.0000,1159.66,1480.70)"><text x="0" y="0" font-size="24.50" fill="#000">Val</text></g>
<g transform="matrix(1.3511,0,0,1.0000,1199.55,1164.40)"><text x="0" y="0" font-size="24.50" fill="#000">Met</text></g>
<g transform="matrix(1.2156,0,0,1.0000,1218.92,1490.20)"><text x="0" y="0" font-size="24.50" fill="#000">Ile</text></g>
<g transform="matrix(1.1332,0,0,1.0000,1290.98,1486.20)"><text x="0" y="0" font-size="24.50" fill="#000">Leu</text></g>
<g transform="matrix(1.1822,0,0,1.0000,1317.52,1201.90)"><text x="0" y="0" font-size="24.50" fill="#000">Tyr</text></g>
<g transform="matrix(1.1369,0,0,1.0000,1328.27,1361.60)"><text x="0" y="0" font-size="24.50" fill="#000">Phe</text></g>
<g transform="matrix(1.1720,0,0,1.0000,1404.53,1321.40)"><text x="0" y="0" font-size="24.50" fill="#000">Trp</text></g>
<g transform="matrix(1.1354,0,0,1.0000,1412.67,1394.00)"><text x="0" y="0" font-size="24.50" fill="#000">HA</text></g>
<g transform="matrix(1.1174,0,0,1.0000,1405.63,1425.40)"><text x="0" y="0" font-size="24.50" fill="#000">GABA</text></g>
<g transform="matrix(1.1239,0,0,1.0000,715.64,1125.84)"><text x="0" y="0" font-size="23.50" fill="#000">0.8</text></g>
<g transform="matrix(1.1239,0,0,1.0000,715.64,1190.48)"><text x="0" y="0" font-size="23.50" fill="#000">0.6</text></g>
<g transform="matrix(1.1154,0,0,1.0000,715.65,1255.12)"><text x="0" y="0" font-size="23.50" fill="#000">0.4</text></g>
<g transform="matrix(1.1326,0,0,1.0000,715.64,1319.76)"><text x="0" y="0" font-size="23.50" fill="#000">0.2</text></g>
<g transform="matrix(1.0550,0,0,1.0000,727.06,1384.40)"><text x="0" y="0" font-size="23.50" fill="#000">0</text></g>
<g transform="matrix(1.1129,0,0,1.0000,711.57,1449.04)"><text x="0" y="0" font-size="23.50" fill="#000">-0.2</text></g>
<g transform="matrix(1.0994,0,0,1.0000,711.59,1513.68)"><text x="0" y="0" font-size="23.50" fill="#000">-0.4</text></g>
<g transform="matrix(0.9850,0,0,1.0000,1049.73,1545.80)"><text x="0" y="0" font-size="34.50" fill="#000">Variables</text></g>
<g transform="matrix(0,-1.0229,1.2400,0,692.50,1398.44)"><text x="0" y="0" font-size="33.50" fill="#000">PC2 (21.17%)</text></g>
<g transform="matrix(1.0679,0,0,1.0000,96.20,1649.10)"><text x="0" y="0" font-size="28.00" font-weight="bold" fill="#000">d</text></g>
<g transform="matrix(1.1075,0,0,1.0000,128.52,1649.10)"><text x="0" y="0" font-size="28.00" fill="#000">Brainstem</text></g>
<line x1="111.80" y1="1834.30" x2="621.20" y2="1834.30" stroke="#000" stroke-width="2" stroke-dasharray="18.75 11.75" stroke-dashoffset="0" stroke-linecap="butt"/>
<line x1="370.50" y1="1670.00" x2="370.50" y2="1996.50" stroke="#000" stroke-width="2" stroke-dasharray="18.75 11.75" stroke-dashoffset="0" stroke-linecap="butt"/>
<line x1="110.55" y1="1996.50" x2="110.55" y2="1991.50" stroke="#000" stroke-width="1.5" stroke-linecap="butt"/>
<line x1="110.55" y1="1670.00" x2="110.55" y2="1675.00" stroke="#000" stroke-width="1.5" stroke-linecap="butt"/>
<line x1="197.20" y1="1996.50" x2="197.20" y2="1991.50" stroke="#000" stroke-width="1.5" stroke-linecap="butt"/>
<line x1="197.20" y1="1670.00" x2="197.20" y2="1675.00" stroke="#000" stroke-width="1.5" stroke-linecap="butt"/>
<line x1="283.85" y1="1996.50" x2="283.85" y2="1991.50" stroke="#000" stroke-width="1.5" stroke-linecap="butt"/>
<line x1="283.85" y1="1670.00" x2="283.85" y2="1675.00" stroke="#000" stroke-width="1.5" stroke-linecap="butt"/>
<line x1="370.50" y1="1996.50" x2="370.50" y2="1991.50" stroke="#000" stroke-width="1.5" stroke-linecap="butt"/>
<line x1="370.50" y1="1670.00" x2="370.50" y2="1675.00" stroke="#000" stroke-width="1.5" stroke-linecap="butt"/>
<line x1="457.15" y1="1996.50" x2="457.15" y2="1991.50" stroke="#000" stroke-width="1.5" stroke-linecap="butt"/>
<line x1="457.15" y1="1670.00" x2="457.15" y2="1675.00" stroke="#000" stroke-width="1.5" stroke-linecap="butt"/>
<line x1="543.80" y1="1996.50" x2="543.80" y2="1991.50" stroke="#000" stroke-width="1.5" stroke-linecap="butt"/>
<line x1="543.80" y1="1670.00" x2="543.80" y2="1675.00" stroke="#000" stroke-width="1.5" stroke-linecap="butt"/>
<line x1="111.80" y1="1947.70" x2="116.80" y2="1947.70" stroke="#000" stroke-width="1.5" stroke-linecap="butt"/>
<line x1="621.20" y1="1947.70" x2="616.20" y2="1947.70" stroke="#000" stroke-width="1.5" stroke-linecap="butt"/>
<line x1="111.80" y1="1833.50" x2="116.80" y2="1833.50" stroke="#000" stroke-width="1.5" stroke-linecap="butt"/>
<line x1="621.20" y1="1833.50" x2="616.20" y2="1833.50" stroke="#000" stroke-width="1.5" stroke-linecap="butt"/>
<line x1="111.80" y1="1719.30" x2="116.80" y2="1719.30" stroke="#000" stroke-width="1.5" stroke-linecap="butt"/>
<line x1="621.20" y1="1719.30" x2="616.20" y2="1719.30" stroke="#000" stroke-width="1.5" stroke-linecap="butt"/>
<polygon points="306.30,1783.80 310.63,1797.14 324.66,1797.14 313.31,1805.38 317.64,1818.71 306.30,1810.47 294.96,1818.71 299.29,1805.38 287.94,1797.14 301.97,1797.14" fill="#ff1aff" stroke="#9a0aa0" stroke-width="1.2" stroke-linejoin="miter"/>
<polygon points="344.90,1764.50 349.23,1777.84 363.26,1777.84 351.91,1786.08 356.24,1799.41 344.90,1791.17 333.56,1799.41 337.89,1786.08 326.54,1777.84 340.57,1777.84" fill="#ff1aff" stroke="#9a0aa0" stroke-width="1.2" stroke-linejoin="miter"/>
<polygon points="393.70,1762.90 398.03,1776.24 412.06,1776.24 400.71,1784.48 405.04,1797.81 393.70,1789.57 382.36,1797.81 386.69,1784.48 375.34,1776.24 389.37,1776.24" fill="#ff1aff" stroke="#9a0aa0" stroke-width="1.2" stroke-linejoin="miter"/>
<polygon points="372.30,1768.60 376.63,1781.94 390.66,1781.94 379.31,1790.18 383.64,1803.51 372.30,1795.27 360.96,1803.51 365.29,1790.18 353.94,1781.94 367.97,1781.94" fill="#ff1aff" stroke="#9a0aa0" stroke-width="1.2" stroke-linejoin="miter"/>
<polygon points="405.50,1771.00 409.83,1784.34 423.86,1784.34 412.51,1792.58 416.84,1805.91 405.50,1797.67 394.16,1805.91 398.49,1792.58 387.14,1784.34 401.17,1784.34" fill="#ff1aff" stroke="#9a0aa0" stroke-width="1.2" stroke-linejoin="miter"/>
<polygon points="409.10,1739.00 413.43,1752.34 427.46,1752.34 416.11,1760.58 420.44,1773.91 409.10,1765.67 397.76,1773.91 402.09,1760.58 390.74,1752.34 404.77,1752.34" fill="#ff1aff" stroke="#9a0aa0" stroke-width="1.2" stroke-linejoin="miter"/>
<polygon points="377.90,1781.10 382.23,1794.44 396.26,1794.44 384.91,1802.68 389.24,1816.01 377.90,1807.77 366.56,1816.01 370.89,1802.68 359.54,1794.44 373.57,1794.44" fill="#ff1aff" stroke="#9a0aa0" stroke-width="1.2" stroke-linejoin="miter"/>
<polygon points="409.40,1795.10 413.73,1808.44 427.76,1808.44 416.41,1816.68 420.74,1830.01 409.40,1821.77 398.06,1830.01 402.39,1816.68 391.04,1808.44 405.07,1808.44" fill="#ff1aff" stroke="#9a0aa0" stroke-width="1.2" stroke-linejoin="miter"/>
<polygon points="142.80,1845.00 121.55,1883.00 164.05,1883.00" fill="#b3802a" stroke="#e0a27a" stroke-width="1" stroke-linejoin="miter"/>
<polygon points="382.00,1836.60 360.75,1874.60 403.25,1874.60" fill="#b3802a" stroke="#e0a27a" stroke-width="1" stroke-linejoin="miter"/>
<polygon points="391.60,1823.90 370.35,1861.90 412.85,1861.90" fill="#b3802a" stroke="#e0a27a" stroke-width="1" stroke-linejoin="miter"/>
<polygon points="362.50,1816.40 341.25,1854.40 383.75,1854.40" fill="#b3802a" stroke="#e0a27a" stroke-width="1" stroke-linejoin="miter"/>
<polygon points="310.00,1873.10 288.75,1911.10 331.25,1911.10" fill="#b3802a" stroke="#e0a27a" stroke-width="1" stroke-linejoin="miter"/>
<polygon points="331.40,1876.00 310.15,1914.00 352.65,1914.00" fill="#b3802a" stroke="#e0a27a" stroke-width="1" stroke-linejoin="miter"/>
<polygon points="504.90,1837.80 483.65,1875.80 526.15,1875.80" fill="#b3802a" stroke="#e0a27a" stroke-width="1" stroke-linejoin="miter"/>
<polygon points="487.10,1923.70 465.85,1961.70 508.35,1961.70" fill="#b3802a" stroke="#e0a27a" stroke-width="1" stroke-linejoin="miter"/>
<ellipse cx="370.60" cy="1833.10" rx="228.50" ry="149.10" fill="none" stroke="#2a86c8" stroke-width="1.5" stroke-dasharray="19.5 12.5" stroke-dashoffset="19.5"/>
<rect x="111.80" y="1670.00" width="509.40" height="326.50" fill="none" stroke="#000" stroke-width="2"/>
<g transform="matrix(1.1249,0,0,1.0000,88.94,2033.00)"><text x="0" y="0" font-size="23.00" fill="#000">- .5</text><path d="M763 0H583V1147Q518 1085 412.5 1023Q307 961 223 930V1104Q374 1175 487 1276Q600 1377 647 1472H763Z" transform="matrix(0.01123,0,0,-0.01123,7.66,0)" fill="#000"/></g>
<g transform="matrix(1.2110,0,0,1.0000,185.35,2033.00)"><text x="0" y="0" font-size="23.00" fill="#000">- </text><path d="M763 0H583V1147Q518 1085 412.5 1023Q307 961 223 930V1104Q374 1175 487 1276Q600 1377 647 1472H763Z" transform="matrix(0.01123,0,0,-0.01123,7.66,0)" fill="#000"/></g>
<g transform="matrix(1.1381,0,0,1.0000,261.32,2033.00)"><text x="0" y="0" font-size="23.00" fill="#000">-0.5</text></g>
<g transform="matrix(1.1957,0,0,1.0000,362.40,2033.00)"><text x="0" y="0" font-size="23.00" fill="#000">0</text></g>
<g transform="matrix(1.0422,0,0,1.0000,438.94,2033.00)"><text x="0" y="0" font-size="23.00" fill="#000">0.5</text></g>
<g transform="matrix(1.3192,0,0,1.0000,536.00,2033.00)"><text x="0" y="0" font-size="23.00" fill="#000"> </text><path d="M763 0H583V1147Q518 1085 412.5 1023Q307 961 223 930V1104Q374 1175 487 1276Q600 1377 647 1472H763Z" transform="matrix(0.01123,0,0,-0.01123,0.00,0)" fill="#000"/></g>
<g transform="matrix(1.1942,0,0,1.0000,63.23,1729.50)"><text x="0" y="0" font-size="22.50" fill="#000">0.5</text></g>
<g transform="matrix(1.1173,0,0,1.0000,84.69,1844.70)"><text x="0" y="0" font-size="24.80" fill="#000">0</text></g>
<g transform="matrix(1.1087,0,0,1.0000,55.33,1959.80)"><text x="0" y="0" font-size="23.50" fill="#000">-0.5</text></g>
<g transform="matrix(1.1940,0,0,1.0000,202.28,2069.10)"><text x="0" y="0" font-size="24.50" fill="#000">Scores on PC   (72.09%)</text><path d="M763 0H583V1147Q518 1085 412.5 1023Q307 961 223 930V1104Q374 1175 487 1276Q600 1377 647 1472H763Z" transform="matrix(0.01196,0,0,-0.01196,157.96,0)" fill="#000"/></g>
<g transform="matrix(0,-1.0801,1.2500,0,39.00,1989.84)"><text x="0" y="0" font-size="25.50" fill="#000">Scores on PC 2 ( 7.53%)</text><path d="M763 0H583V1147Q518 1085 412.5 1023Q307 961 223 930V1104Q374 1175 487 1276Q600 1377 647 1472H763Z" transform="matrix(0.01245,0,0,-0.01245,194.17,0)" fill="#000"/></g>
<line x1="753.30" y1="1883.00" x2="1489.90" y2="1883.00" stroke="#111" stroke-width="2.4" stroke-dasharray="11 3.8" stroke-dashoffset="1.0" stroke-linecap="butt"/>
<line x1="753.30" y1="1725.20" x2="761.30" y2="1725.20" stroke="#555" stroke-width="1.5" stroke-linecap="butt"/>
<line x1="1489.90" y1="1725.20" x2="1481.90" y2="1725.20" stroke="#555" stroke-width="1.5" stroke-linecap="butt"/>
<line x1="753.30" y1="1803.80" x2="761.30" y2="1803.80" stroke="#555" stroke-width="1.5" stroke-linecap="butt"/>
<line x1="1489.90" y1="1803.80" x2="1481.90" y2="1803.80" stroke="#555" stroke-width="1.5" stroke-linecap="butt"/>
<line x1="753.30" y1="1882.40" x2="761.30" y2="1882.40" stroke="#555" stroke-width="1.5" stroke-linecap="butt"/>
<line x1="1489.90" y1="1882.40" x2="1481.90" y2="1882.40" stroke="#555" stroke-width="1.5" stroke-linecap="butt"/>
<line x1="753.30" y1="1961.00" x2="761.30" y2="1961.00" stroke="#555" stroke-width="1.5" stroke-linecap="butt"/>
<line x1="1489.90" y1="1961.00" x2="1481.90" y2="1961.00" stroke="#555" stroke-width="1.5" stroke-linecap="butt"/>
<line x1="753.30" y1="2039.60" x2="761.30" y2="2039.60" stroke="#555" stroke-width="1.5" stroke-linecap="butt"/>
<line x1="1489.90" y1="2039.60" x2="1481.90" y2="2039.60" stroke="#555" stroke-width="1.5" stroke-linecap="butt"/>
<line x1="913.50" y1="2048.60" x2="913.50" y2="2040.60" stroke="#555" stroke-width="1.5" stroke-linecap="butt"/>
<line x1="913.50" y1="1657.30" x2="913.50" y2="1665.30" stroke="#555" stroke-width="1.5" stroke-linecap="butt"/>
<line x1="1101.70" y1="2048.60" x2="1101.70" y2="2040.60" stroke="#555" stroke-width="1.5" stroke-linecap="butt"/>
<line x1="1101.70" y1="1657.30" x2="1101.70" y2="1665.30" stroke="#555" stroke-width="1.5" stroke-linecap="butt"/>
<line x1="1290.60" y1="2048.60" x2="1290.60" y2="2040.60" stroke="#555" stroke-width="1.5" stroke-linecap="butt"/>
<line x1="1290.60" y1="1657.30" x2="1290.60" y2="1665.30" stroke="#555" stroke-width="1.5" stroke-linecap="butt"/>
<line x1="1480.60" y1="2048.60" x2="1480.60" y2="2040.60" stroke="#555" stroke-width="1.5" stroke-linecap="butt"/>
<line x1="1480.60" y1="1657.30" x2="1480.60" y2="1665.30" stroke="#555" stroke-width="1.5" stroke-linecap="butt"/>
<polyline points="761.90,1983.70 799.90,1913.10 837.70,1920.50 875.20,1965.80 913.50,1913.10 950.10,1905.80 987.60,1887.90 1025.80,1861.00 1064.70,1920.10 1101.70,1923.80 1140.10,1920.10 1177.50,1947.10 1215.50,1679.60 1253.50,2032.20 1290.60,2016.50 1328.40,1693.20 1365.70,1891.80 1404.50,1835.50 1442.90,1886.90 1480.60,1933.60" fill="none" stroke="#000" stroke-width="3.8" stroke-linejoin="round"/>
<circle cx="761.90" cy="1983.70" r="3.4" fill="none" stroke="#7fb3dc" stroke-width="1.1"/>
<circle cx="799.90" cy="1913.10" r="3.4" fill="none" stroke="#7fb3dc" stroke-width="1.1"/>
<circle cx="837.70" cy="1920.50" r="3.4" fill="none" stroke="#7fb3dc" stroke-width="1.1"/>
<circle cx="875.20" cy="1965.80" r="3.4" fill="none" stroke="#7fb3dc" stroke-width="1.1"/>
<circle cx="913.50" cy="1913.10" r="3.4" fill="none" stroke="#7fb3dc" stroke-width="1.1"/>
<circle cx="950.10" cy="1905.80" r="3.4" fill="none" stroke="#7fb3dc" stroke-width="1.1"/>
<circle cx="987.60" cy="1887.90" r="3.4" fill="none" stroke="#7fb3dc" stroke-width="1.1"/>
<circle cx="1025.80" cy="1861.00" r="3.4" fill="none" stroke="#7fb3dc" stroke-width="1.1"/>
<circle cx="1064.70" cy="1920.10" r="3.4" fill="none" stroke="#7fb3dc" stroke-width="1.1"/>
<circle cx="1101.70" cy="1923.80" r="3.4" fill="none" stroke="#7fb3dc" stroke-width="1.1"/>
<circle cx="1140.10" cy="1920.10" r="3.4" fill="none" stroke="#7fb3dc" stroke-width="1.1"/>
<circle cx="1177.50" cy="1947.10" r="3.4" fill="none" stroke="#7fb3dc" stroke-width="1.1"/>
<circle cx="1215.50" cy="1679.60" r="3.4" fill="none" stroke="#7fb3dc" stroke-width="1.1"/>
<circle cx="1253.50" cy="2032.20" r="3.4" fill="none" stroke="#7fb3dc" stroke-width="1.1"/>
<circle cx="1290.60" cy="2016.50" r="3.4" fill="none" stroke="#7fb3dc" stroke-width="1.1"/>
<circle cx="1328.40" cy="1693.20" r="3.4" fill="none" stroke="#7fb3dc" stroke-width="1.1"/>
<circle cx="1365.70" cy="1891.80" r="3.4" fill="none" stroke="#7fb3dc" stroke-width="1.1"/>
<circle cx="1404.50" cy="1835.50" r="3.4" fill="none" stroke="#7fb3dc" stroke-width="1.1"/>
<circle cx="1442.90" cy="1886.90" r="3.4" fill="none" stroke="#7fb3dc" stroke-width="1.1"/>
<circle cx="1480.60" cy="1933.60" r="3.4" fill="none" stroke="#7fb3dc" stroke-width="1.1"/>
<rect x="753.30" y="1657.30" width="736.60" height="391.30" fill="none" stroke="#555" stroke-width="1.6"/>
<g transform="matrix(1.0894,0,0,1.0000,761.46,2004.60)"><text x="0" y="0" font-size="24.50" fill="#000">Lys</text></g>
<g transform="matrix(1.1916,0,0,1.0000,784.60,1904.40)"><text x="0" y="0" font-size="24.50" fill="#000">Arg</text></g>
<g transform="matrix(1.1232,0,0,1.0000,852.90,1928.80)"><text x="0" y="0" font-size="24.50" fill="#000">His</text></g>
<g transform="matrix(1.0921,0,0,1.0000,853.90,2002.80)"><text x="0" y="0" font-size="24.50" fill="#000">Ser</text></g>
<g transform="matrix(1.1369,0,0,1.0000,904.00,1956.70)"><text x="0" y="0" font-size="24.50" fill="#000">Asn</text></g>
<g transform="matrix(1.1224,0,0,1.0000,949.20,1937.50)"><text x="0" y="0" font-size="24.50" fill="#000">Asp</text></g>
<g transform="matrix(1.1073,0,0,1.0000,990.20,1911.40)"><text x="0" y="0" font-size="24.50" fill="#000">Ala</text></g>
<g transform="matrix(1.1937,0,0,1.0000,1018.62,1850.00)"><text x="0" y="0" font-size="24.50" fill="#000">Thr</text></g>
<g transform="matrix(1.2103,0,0,1.0000,1031.32,1955.80)"><text x="0" y="0" font-size="24.50" fill="#000">Gln</text></g>
<g transform="matrix(1.2103,0,0,1.0000,1087.22,1916.60)"><text x="0" y="0" font-size="24.50" fill="#000">Glu</text></g>
<g transform="matrix(1.1889,0,0,1.0000,1109.87,1949.70)"><text x="0" y="0" font-size="24.50" fill="#000">Pro</text></g>
<g transform="matrix(1.1743,0,0,1.0000,1160.86,1977.60)"><text x="0" y="0" font-size="24.50" fill="#000">Val</text></g>
<g transform="matrix(1.3433,0,0,1.0000,1224.17,1702.30)"><text x="0" y="0" font-size="24.50" fill="#000">Met</text></g>
<g transform="matrix(1.1979,0,0,1.0000,1209.76,2043.80)"><text x="0" y="0" font-size="24.50" fill="#000">Ile</text></g>
<g transform="matrix(1.1224,0,0,1.0000,1290.90,2039.80)"><text x="0" y="0" font-size="24.50" fill="#000">Leu</text></g>
<g transform="matrix(1.1852,0,0,1.0000,1341.22,1705.70)"><text x="0" y="0" font-size="24.50" fill="#000">Tyr</text></g>
<g transform="matrix(1.1369,0,0,1.0000,1326.57,1921.40)"><text x="0" y="0" font-size="24.50" fill="#000">Phe</text></g>
<g transform="matrix(1.1662,0,0,1.0000,1394.43,1824.20)"><text x="0" y="0" font-size="24.50" fill="#000">Trp</text></g>
<g transform="matrix(1.1166,0,0,1.0000,1405.01,1921.40)"><text x="0" y="0" font-size="24.50" fill="#000">HA</text></g>
<g transform="matrix(1.1084,0,0,1.0000,1411.04,1969.30)"><text x="0" y="0" font-size="24.50" fill="#000">GABA</text></g>
<g transform="matrix(1.1509,0,0,1.0000,707.22,1735.50)"><text x="0" y="0" font-size="23.50" fill="#000">0.4</text></g>
<g transform="matrix(1.1686,0,0,1.0000,707.20,1814.10)"><text x="0" y="0" font-size="23.50" fill="#000">0.2</text></g>
<g transform="matrix(1.0816,0,0,1.0000,730.78,1892.70)"><text x="0" y="0" font-size="23.50" fill="#000">0</text></g>
<g transform="matrix(1.1182,0,0,1.0000,700.12,1971.30)"><text x="0" y="0" font-size="23.50" fill="#000">-0.2</text></g>
<g transform="matrix(1.1046,0,0,1.0000,700.13,2049.90)"><text x="0" y="0" font-size="23.50" fill="#000">-0.4</text></g>
<g transform="matrix(0.9850,0,0,1.0000,1049.73,2098.80)"><text x="0" y="0" font-size="34.50" fill="#000">Variables</text></g>
<g transform="matrix(0,-1.0973,1.2400,0,692.00,1997.04)"><text x="0" y="0" font-size="33.50" fill="#000">PC2 (17.53%)</text></g>
<polygon points="48.40,2144.10 32.75,2169.80 64.05,2169.80" fill="#b3802a" stroke="#e0a27a" stroke-width="1" stroke-linejoin="miter"/>
<polygon points="50.40,2195.60 53.90,2206.38 65.24,2206.38 56.07,2213.04 59.57,2223.82 50.40,2217.16 41.23,2223.82 44.73,2213.04 35.56,2206.38 46.90,2206.38" fill="#ff1aff" stroke="#9a0aa0" stroke-width="1" stroke-linejoin="miter"/>
<g transform="matrix(0.9611,0,0,1.0000,87.53,2169.40)"><text x="0" y="0" font-size="36.00" fill="#000">LolB</text></g>
<g transform="matrix(0.9509,0,0,1.0000,156.97,2158.10)"><text x="0" y="0" font-size="24.00" fill="#000">HIGH</text></g>
<g transform="matrix(0.9611,0,0,1.0000,87.53,2224.70)"><text x="0" y="0" font-size="36.00" fill="#000">LolB</text></g>
<g transform="matrix(0.9509,0,0,1.0000,156.97,2214.00)"><text x="0" y="0" font-size="24.00" fill="#000">HIGH</text></g>
<g transform="matrix(1.0469,0,0,1.0000,222.52,2169.40)"><text x="0" y="0" font-size="36.00" fill="#000">6h</text></g>
<g transform="matrix(1.0113,0,0,1.0000,219.78,2224.70)"><text x="0" y="0" font-size="36.00" fill="#000">24</text></g>
<g transform="matrix(0.8730,0,0,1.0000,271.90,2224.70)"><text x="0" y="0" font-size="36.00" fill="#000">h</text></g>
</svg></body></html>
